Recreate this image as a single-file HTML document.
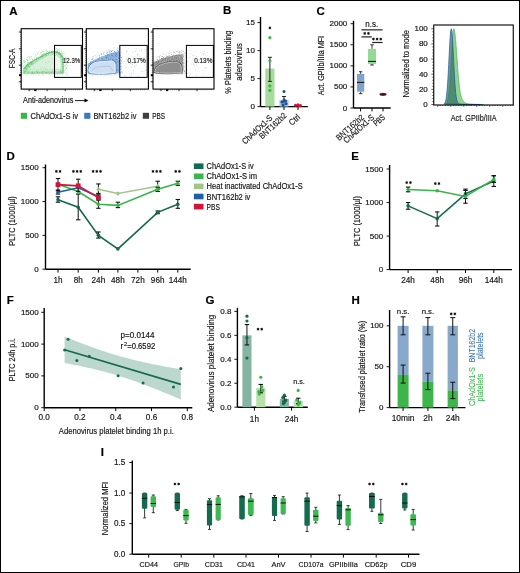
<!DOCTYPE html>
<html><head><meta charset="utf-8"><style>
html,body{margin:0;padding:0;background:#fff;}
body{width:520px;height:573px;overflow:hidden;position:relative;}
svg{position:absolute;left:0;top:0;display:block;font-family:"Liberation Sans", sans-serif;will-change:transform;}
.frame{position:absolute;left:0;top:0;width:518px;height:571px;border:1px solid #000;pointer-events:none;}
</style></head><body>
<svg width="520" height="573" viewBox="0 0 520 573">
<defs><filter id="blur1" x="-20%" y="-20%" width="140%" height="140%"><feGaussianBlur stdDeviation="0.8"/></filter><filter id="blur05" x="-20%" y="-20%" width="140%" height="140%"><feGaussianBlur stdDeviation="0.45"/></filter><filter id="blur2" x="-30%" y="-30%" width="160%" height="160%"><feGaussianBlur stdDeviation="1.6"/></filter><filter id="speck" x="-10%" y="-10%" width="120%" height="120%"><feGaussianBlur in="SourceGraphic" stdDeviation="1.3" result="b"/><feTurbulence type="fractalNoise" baseFrequency="2.2" numOctaves="1" seed="3" result="n"/><feColorMatrix in="n" type="matrix" values="0 0 0 0 0  0 0 0 0 0  0 0 0 0 0  0 0 0 2.2 -1.0" result="nm"/><feComposite in="b" in2="nm" operator="in"/></filter></defs>
<rect x="0" y="0" width="520" height="573" fill="#fff"/>
<text x="9.20" y="15.20" font-size="11.5" text-anchor="start" fill="#000" stroke="#000" stroke-width="0.16" font-weight="bold" >A</text>
<text x="14.60" y="58.40" font-size="9.2" text-anchor="middle" fill="#141213" stroke="#141213" stroke-width="0.16" textLength="19.50" lengthAdjust="spacingAndGlyphs" transform="rotate(-90 14.60 58.40)" >FSC-A</text>
<path d="M22.4,74.8 L22.4,59.5 C30,56 42,50 51.7,48.6 L60.4,48.6 C64,51.5 67.5,56 67.5,60 L67.5,75 Z" fill="#3ab54a" opacity="0.9" filter="url(#speck)"/>
<path d="M22.8,74 C22.6,70 23.5,66 30,62 C38,57 46,52.5 52,51.3 C57,50.5 61,52 62.8,56 C64,60 64,68 63.5,74 Z" fill="#3ab54a" opacity="0.42" filter="url(#blur05)"/>
<path d="M28,70 C32,64.5 42,57.5 51,54.3 C55,53.2 59,54.5 60.6,58 C61.8,61 61.8,67 61.5,70 Z" fill="#ffffff" opacity="0.6" filter="url(#blur1)"/>
<path d="M55.5,56 C58,55.5 60,57.5 60.5,60 L60.8,69 L56,69 Z" fill="#ffffff" opacity="0.55" filter="url(#blur1)"/>
<path d="M23.2,69 C28,64 40,56 52,51.8 C57,51 60.5,53 62.3,57.5 C63.2,62 63.2,68 63,72.5" fill="none" stroke="#2fae48" stroke-width="1.2" opacity="0.45" filter="url(#blur05)"/>
<path d="M28,70 C33,65 42,59 51,56.5 C55,55.5 58,57 59,60 L59.5,70" fill="none" stroke="#ffffff" stroke-width="0.6" opacity="0.6"/>
<line x1="24.00" y1="72.60" x2="62.00" y2="72.60" stroke="#2fae48" stroke-width="2.4" opacity="0.55" filter="url(#blur05)"/>
<line x1="26.00" y1="70.80" x2="60.00" y2="70.80" stroke="#ffffff" stroke-width="0.7" opacity="0.7"/>
<rect x="21.20" y="28.70" width="61.30" height="60.40" fill="none" stroke="#000" stroke-width="1.1" />
<rect x="54.50" y="45.40" width="26.80" height="32.00" fill="none" stroke="#000" stroke-width="1.0" />
<text x="63.00" y="63.30" font-size="7.9" text-anchor="start" fill="#222" stroke="#222" stroke-width="0.2" textLength="17.20" lengthAdjust="spacingAndGlyphs" >12.3%</text>
<line x1="20.00" y1="30.50" x2="21.20" y2="30.50" stroke="#333" stroke-width="0.45" />
<line x1="20.00" y1="32.50" x2="21.20" y2="32.50" stroke="#333" stroke-width="0.45" />
<line x1="20.00" y1="34.50" x2="21.20" y2="34.50" stroke="#333" stroke-width="0.45" />
<line x1="20.00" y1="36.50" x2="21.20" y2="36.50" stroke="#333" stroke-width="0.45" />
<line x1="20.00" y1="38.50" x2="21.20" y2="38.50" stroke="#333" stroke-width="0.45" />
<line x1="20.00" y1="40.50" x2="21.20" y2="40.50" stroke="#333" stroke-width="0.45" />
<line x1="20.00" y1="42.50" x2="21.20" y2="42.50" stroke="#333" stroke-width="0.45" />
<line x1="20.00" y1="44.50" x2="21.20" y2="44.50" stroke="#333" stroke-width="0.45" />
<line x1="20.00" y1="46.50" x2="21.20" y2="46.50" stroke="#333" stroke-width="0.45" />
<line x1="20.00" y1="48.50" x2="21.20" y2="48.50" stroke="#333" stroke-width="0.45" />
<line x1="20.00" y1="50.50" x2="21.20" y2="50.50" stroke="#333" stroke-width="0.45" />
<line x1="20.00" y1="52.50" x2="21.20" y2="52.50" stroke="#333" stroke-width="0.45" />
<line x1="20.00" y1="54.50" x2="21.20" y2="54.50" stroke="#333" stroke-width="0.45" />
<line x1="20.00" y1="56.50" x2="21.20" y2="56.50" stroke="#333" stroke-width="0.45" />
<line x1="20.00" y1="58.50" x2="21.20" y2="58.50" stroke="#333" stroke-width="0.45" />
<line x1="20.00" y1="60.50" x2="21.20" y2="60.50" stroke="#333" stroke-width="0.45" />
<line x1="20.00" y1="62.50" x2="21.20" y2="62.50" stroke="#333" stroke-width="0.45" />
<line x1="20.00" y1="64.50" x2="21.20" y2="64.50" stroke="#333" stroke-width="0.45" />
<line x1="20.00" y1="66.50" x2="21.20" y2="66.50" stroke="#333" stroke-width="0.45" />
<line x1="20.00" y1="68.50" x2="21.20" y2="68.50" stroke="#333" stroke-width="0.45" />
<line x1="20.00" y1="70.50" x2="21.20" y2="70.50" stroke="#333" stroke-width="0.45" />
<line x1="20.00" y1="72.50" x2="21.20" y2="72.50" stroke="#333" stroke-width="0.45" />
<line x1="20.00" y1="74.50" x2="21.20" y2="74.50" stroke="#333" stroke-width="0.45" />
<line x1="20.00" y1="76.50" x2="21.20" y2="76.50" stroke="#333" stroke-width="0.45" />
<line x1="20.00" y1="78.50" x2="21.20" y2="78.50" stroke="#333" stroke-width="0.45" />
<line x1="20.00" y1="80.50" x2="21.20" y2="80.50" stroke="#333" stroke-width="0.45" />
<line x1="20.00" y1="82.50" x2="21.20" y2="82.50" stroke="#333" stroke-width="0.45" />
<line x1="20.00" y1="84.50" x2="21.20" y2="84.50" stroke="#333" stroke-width="0.45" />
<line x1="20.00" y1="86.50" x2="21.20" y2="86.50" stroke="#333" stroke-width="0.45" />
<line x1="18.80" y1="32.00" x2="21.20" y2="32.00" stroke="#000" stroke-width="0.8" />
<line x1="18.80" y1="48.80" x2="21.20" y2="48.80" stroke="#000" stroke-width="0.8" />
<line x1="18.80" y1="65.20" x2="21.20" y2="65.20" stroke="#000" stroke-width="0.8" />
<line x1="18.80" y1="81.80" x2="21.20" y2="81.80" stroke="#000" stroke-width="0.8" />
<rect x="19.00" y="74.20" width="2.20" height="2.00" fill="#000" />
<line x1="24.20" y1="89.10" x2="24.20" y2="90.30" stroke="#333" stroke-width="0.45" />
<line x1="26.25" y1="89.10" x2="26.25" y2="90.30" stroke="#333" stroke-width="0.45" />
<line x1="28.30" y1="89.10" x2="28.30" y2="90.30" stroke="#333" stroke-width="0.45" />
<line x1="30.35" y1="89.10" x2="30.35" y2="90.30" stroke="#333" stroke-width="0.45" />
<line x1="32.40" y1="89.10" x2="32.40" y2="90.30" stroke="#333" stroke-width="0.45" />
<line x1="34.45" y1="89.10" x2="34.45" y2="90.30" stroke="#333" stroke-width="0.45" />
<line x1="36.50" y1="89.10" x2="36.50" y2="90.30" stroke="#333" stroke-width="0.45" />
<line x1="38.55" y1="89.10" x2="38.55" y2="90.30" stroke="#333" stroke-width="0.45" />
<line x1="40.60" y1="89.10" x2="40.60" y2="90.30" stroke="#333" stroke-width="0.45" />
<line x1="42.65" y1="89.10" x2="42.65" y2="90.30" stroke="#333" stroke-width="0.45" />
<line x1="44.70" y1="89.10" x2="44.70" y2="90.30" stroke="#333" stroke-width="0.45" />
<line x1="46.75" y1="89.10" x2="46.75" y2="90.30" stroke="#333" stroke-width="0.45" />
<line x1="48.80" y1="89.10" x2="48.80" y2="90.30" stroke="#333" stroke-width="0.45" />
<line x1="50.85" y1="89.10" x2="50.85" y2="90.30" stroke="#333" stroke-width="0.45" />
<line x1="52.90" y1="89.10" x2="52.90" y2="90.30" stroke="#333" stroke-width="0.45" />
<line x1="54.95" y1="89.10" x2="54.95" y2="90.30" stroke="#333" stroke-width="0.45" />
<line x1="57.00" y1="89.10" x2="57.00" y2="90.30" stroke="#333" stroke-width="0.45" />
<line x1="59.05" y1="89.10" x2="59.05" y2="90.30" stroke="#333" stroke-width="0.45" />
<line x1="61.10" y1="89.10" x2="61.10" y2="90.30" stroke="#333" stroke-width="0.45" />
<line x1="63.15" y1="89.10" x2="63.15" y2="90.30" stroke="#333" stroke-width="0.45" />
<line x1="65.20" y1="89.10" x2="65.20" y2="90.30" stroke="#333" stroke-width="0.45" />
<line x1="67.25" y1="89.10" x2="67.25" y2="90.30" stroke="#333" stroke-width="0.45" />
<line x1="69.30" y1="89.10" x2="69.30" y2="90.30" stroke="#333" stroke-width="0.45" />
<line x1="71.35" y1="89.10" x2="71.35" y2="90.30" stroke="#333" stroke-width="0.45" />
<line x1="73.40" y1="89.10" x2="73.40" y2="90.30" stroke="#333" stroke-width="0.45" />
<line x1="75.45" y1="89.10" x2="75.45" y2="90.30" stroke="#333" stroke-width="0.45" />
<line x1="77.50" y1="89.10" x2="77.50" y2="90.30" stroke="#333" stroke-width="0.45" />
<line x1="79.55" y1="89.10" x2="79.55" y2="90.30" stroke="#333" stroke-width="0.45" />
<line x1="29.20" y1="89.10" x2="29.20" y2="91.20" stroke="#000" stroke-width="0.8" />
<line x1="47.20" y1="89.10" x2="47.20" y2="91.20" stroke="#000" stroke-width="0.8" />
<line x1="65.20" y1="89.10" x2="65.20" y2="91.20" stroke="#000" stroke-width="0.8" />
<rect x="34.20" y="89.30" width="2.20" height="1.80" fill="#000" />
<path d="M87.5,74.5 L87.5,60.5 C95,55 108,49 121,47 L122,75 Z" fill="#2e6fc0" opacity="0.95" filter="url(#speck)"/>
<path d="M87.6,73.8 L87.6,64 C95,59 108,53 119.2,51 L119.4,72.8 C110,74 95,74 87.6,73.8 Z" fill="#2f6fc0" opacity="0.5" filter="url(#blur05)"/>
<path d="M88.8,71 C88.8,66 92,62.8 98,62 L111.9,60.8 C114.2,61 115.2,62.8 115.2,66 L115.2,72.6 C105,73.6 95,73.6 90,72.8 Z" fill="none" stroke="#2f6fc0" stroke-width="2.2" opacity="0.85" filter="url(#blur05)"/>
<path d="M88.8,71 C88.8,66 92,62.8 98,62 L111.9,60.8 C114.2,61 115.2,62.8 115.2,66 L115.2,72.6 C105,73.6 95,73.6 90,72.8 Z" fill="#d3e1f3" stroke="#ffffff" stroke-width="1.0" opacity="0.95"/>
<path d="M92,70.5 C95,67 100,66 110,66.5 L113,71" fill="none" stroke="#9dbbe3" stroke-width="1.0" opacity="0.6" filter="url(#blur05)"/>
<circle cx="127.74" cy="51.53" r="0.25" fill="#5a8fd0"/>
<circle cx="120.96" cy="63.08" r="0.35" fill="#5a8fd0"/>
<circle cx="134.74" cy="74.29" r="0.25" fill="#5a8fd0"/>
<circle cx="120.01" cy="60.01" r="0.25" fill="#5a8fd0"/>
<circle cx="125.50" cy="63.53" r="0.25" fill="#5a8fd0"/>
<circle cx="141.33" cy="50.71" r="0.25" fill="#5a8fd0"/>
<circle cx="136.03" cy="64.49" r="0.25" fill="#5a8fd0"/>
<circle cx="134.58" cy="58.90" r="0.25" fill="#5a8fd0"/>
<circle cx="120.26" cy="72.75" r="0.35" fill="#5a8fd0"/>
<circle cx="130.32" cy="63.22" r="0.35" fill="#5a8fd0"/>
<circle cx="134.13" cy="67.46" r="0.25" fill="#5a8fd0"/>
<circle cx="134.70" cy="66.17" r="0.35" fill="#5a8fd0"/>
<circle cx="121.63" cy="68.36" r="0.25" fill="#5a8fd0"/>
<circle cx="135.71" cy="61.89" r="0.35" fill="#5a8fd0"/>
<circle cx="139.99" cy="60.97" r="0.35" fill="#5a8fd0"/>
<circle cx="128.76" cy="54.45" r="0.25" fill="#5a8fd0"/>
<circle cx="137.87" cy="54.32" r="0.35" fill="#5a8fd0"/>
<circle cx="133.18" cy="73.25" r="0.35" fill="#5a8fd0"/>
<circle cx="126.77" cy="76.41" r="0.25" fill="#5a8fd0"/>
<circle cx="132.82" cy="51.95" r="0.35" fill="#5a8fd0"/>
<circle cx="123.10" cy="61.67" r="0.25" fill="#5a8fd0"/>
<circle cx="144.97" cy="49.33" r="0.35" fill="#5a8fd0"/>
<circle cx="128.18" cy="57.51" r="0.35" fill="#5a8fd0"/>
<circle cx="134.66" cy="60.69" r="0.25" fill="#5a8fd0"/>
<circle cx="144.51" cy="61.22" r="0.25" fill="#5a8fd0"/>
<circle cx="120.64" cy="68.04" r="0.35" fill="#5a8fd0"/>
<circle cx="126.68" cy="58.57" r="0.35" fill="#5a8fd0"/>
<circle cx="119.61" cy="60.85" r="0.25" fill="#5a8fd0"/>
<circle cx="135.49" cy="61.81" r="0.25" fill="#5a8fd0"/>
<circle cx="139.74" cy="50.88" r="0.25" fill="#5a8fd0"/>
<circle cx="129.74" cy="74.50" r="0.35" fill="#5a8fd0"/>
<circle cx="121.18" cy="60.48" r="0.35" fill="#5a8fd0"/>
<circle cx="142.85" cy="71.58" r="0.35" fill="#5a8fd0"/>
<circle cx="138.07" cy="76.59" r="0.35" fill="#5a8fd0"/>
<circle cx="144.86" cy="51.53" r="0.25" fill="#5a8fd0"/>
<circle cx="123.09" cy="66.76" r="0.25" fill="#5a8fd0"/>
<circle cx="132.09" cy="64.67" r="0.35" fill="#5a8fd0"/>
<circle cx="126.61" cy="51.37" r="0.35" fill="#5a8fd0"/>
<circle cx="135.46" cy="56.56" r="0.25" fill="#5a8fd0"/>
<circle cx="137.64" cy="62.46" r="0.25" fill="#5a8fd0"/>
<circle cx="131.33" cy="73.13" r="0.35" fill="#5a8fd0"/>
<circle cx="129.75" cy="58.82" r="0.35" fill="#5a8fd0"/>
<circle cx="136.13" cy="48.87" r="0.25" fill="#5a8fd0"/>
<circle cx="145.59" cy="60.22" r="0.25" fill="#5a8fd0"/>
<circle cx="128.18" cy="48.58" r="0.25" fill="#5a8fd0"/>
<circle cx="134.30" cy="63.10" r="0.35" fill="#5a8fd0"/>
<circle cx="135.57" cy="49.11" r="0.25" fill="#5a8fd0"/>
<circle cx="135.58" cy="51.46" r="0.35" fill="#5a8fd0"/>
<circle cx="144.80" cy="65.07" r="0.35" fill="#5a8fd0"/>
<circle cx="122.32" cy="72.47" r="0.35" fill="#5a8fd0"/>
<circle cx="131.97" cy="56.36" r="0.25" fill="#5a8fd0"/>
<circle cx="121.76" cy="57.28" r="0.35" fill="#5a8fd0"/>
<circle cx="131.92" cy="67.76" r="0.25" fill="#5a8fd0"/>
<circle cx="124.54" cy="75.56" r="0.35" fill="#5a8fd0"/>
<circle cx="122.96" cy="63.30" r="0.25" fill="#5a8fd0"/>
<circle cx="139.47" cy="55.94" r="0.25" fill="#5a8fd0"/>
<circle cx="137.80" cy="54.83" r="0.35" fill="#5a8fd0"/>
<circle cx="143.52" cy="57.67" r="0.25" fill="#5a8fd0"/>
<circle cx="133.38" cy="70.37" r="0.35" fill="#5a8fd0"/>
<circle cx="136.18" cy="65.40" r="0.25" fill="#5a8fd0"/>
<circle cx="140.76" cy="71.55" r="0.25" fill="#5a8fd0"/>
<circle cx="124.40" cy="61.78" r="0.25" fill="#5a8fd0"/>
<circle cx="145.72" cy="70.70" r="0.35" fill="#5a8fd0"/>
<circle cx="126.00" cy="67.78" r="0.35" fill="#5a8fd0"/>
<circle cx="131.08" cy="75.11" r="0.35" fill="#5a8fd0"/>
<circle cx="144.79" cy="57.94" r="0.25" fill="#5a8fd0"/>
<circle cx="121.76" cy="61.10" r="0.35" fill="#5a8fd0"/>
<circle cx="124.52" cy="65.72" r="0.25" fill="#5a8fd0"/>
<circle cx="131.95" cy="66.59" r="0.25" fill="#5a8fd0"/>
<circle cx="141.54" cy="50.60" r="0.35" fill="#5a8fd0"/>
<rect x="86.30" y="28.70" width="62.10" height="60.40" fill="none" stroke="#000" stroke-width="1.1" />
<rect x="119.80" y="45.40" width="27.40" height="32.00" fill="none" stroke="#000" stroke-width="1.0" />
<text x="127.60" y="63.30" font-size="7.9" text-anchor="start" fill="#222" stroke="#222" stroke-width="0.2" textLength="18.20" lengthAdjust="spacingAndGlyphs" >0.17%</text>
<line x1="85.10" y1="30.50" x2="86.30" y2="30.50" stroke="#333" stroke-width="0.45" />
<line x1="85.10" y1="32.50" x2="86.30" y2="32.50" stroke="#333" stroke-width="0.45" />
<line x1="85.10" y1="34.50" x2="86.30" y2="34.50" stroke="#333" stroke-width="0.45" />
<line x1="85.10" y1="36.50" x2="86.30" y2="36.50" stroke="#333" stroke-width="0.45" />
<line x1="85.10" y1="38.50" x2="86.30" y2="38.50" stroke="#333" stroke-width="0.45" />
<line x1="85.10" y1="40.50" x2="86.30" y2="40.50" stroke="#333" stroke-width="0.45" />
<line x1="85.10" y1="42.50" x2="86.30" y2="42.50" stroke="#333" stroke-width="0.45" />
<line x1="85.10" y1="44.50" x2="86.30" y2="44.50" stroke="#333" stroke-width="0.45" />
<line x1="85.10" y1="46.50" x2="86.30" y2="46.50" stroke="#333" stroke-width="0.45" />
<line x1="85.10" y1="48.50" x2="86.30" y2="48.50" stroke="#333" stroke-width="0.45" />
<line x1="85.10" y1="50.50" x2="86.30" y2="50.50" stroke="#333" stroke-width="0.45" />
<line x1="85.10" y1="52.50" x2="86.30" y2="52.50" stroke="#333" stroke-width="0.45" />
<line x1="85.10" y1="54.50" x2="86.30" y2="54.50" stroke="#333" stroke-width="0.45" />
<line x1="85.10" y1="56.50" x2="86.30" y2="56.50" stroke="#333" stroke-width="0.45" />
<line x1="85.10" y1="58.50" x2="86.30" y2="58.50" stroke="#333" stroke-width="0.45" />
<line x1="85.10" y1="60.50" x2="86.30" y2="60.50" stroke="#333" stroke-width="0.45" />
<line x1="85.10" y1="62.50" x2="86.30" y2="62.50" stroke="#333" stroke-width="0.45" />
<line x1="85.10" y1="64.50" x2="86.30" y2="64.50" stroke="#333" stroke-width="0.45" />
<line x1="85.10" y1="66.50" x2="86.30" y2="66.50" stroke="#333" stroke-width="0.45" />
<line x1="85.10" y1="68.50" x2="86.30" y2="68.50" stroke="#333" stroke-width="0.45" />
<line x1="85.10" y1="70.50" x2="86.30" y2="70.50" stroke="#333" stroke-width="0.45" />
<line x1="85.10" y1="72.50" x2="86.30" y2="72.50" stroke="#333" stroke-width="0.45" />
<line x1="85.10" y1="74.50" x2="86.30" y2="74.50" stroke="#333" stroke-width="0.45" />
<line x1="85.10" y1="76.50" x2="86.30" y2="76.50" stroke="#333" stroke-width="0.45" />
<line x1="85.10" y1="78.50" x2="86.30" y2="78.50" stroke="#333" stroke-width="0.45" />
<line x1="85.10" y1="80.50" x2="86.30" y2="80.50" stroke="#333" stroke-width="0.45" />
<line x1="85.10" y1="82.50" x2="86.30" y2="82.50" stroke="#333" stroke-width="0.45" />
<line x1="85.10" y1="84.50" x2="86.30" y2="84.50" stroke="#333" stroke-width="0.45" />
<line x1="85.10" y1="86.50" x2="86.30" y2="86.50" stroke="#333" stroke-width="0.45" />
<line x1="83.90" y1="32.00" x2="86.30" y2="32.00" stroke="#000" stroke-width="0.8" />
<line x1="83.90" y1="48.80" x2="86.30" y2="48.80" stroke="#000" stroke-width="0.8" />
<line x1="83.90" y1="65.20" x2="86.30" y2="65.20" stroke="#000" stroke-width="0.8" />
<line x1="83.90" y1="81.80" x2="86.30" y2="81.80" stroke="#000" stroke-width="0.8" />
<rect x="84.10" y="74.20" width="2.20" height="2.00" fill="#000" />
<line x1="89.30" y1="89.10" x2="89.30" y2="90.30" stroke="#333" stroke-width="0.45" />
<line x1="91.35" y1="89.10" x2="91.35" y2="90.30" stroke="#333" stroke-width="0.45" />
<line x1="93.40" y1="89.10" x2="93.40" y2="90.30" stroke="#333" stroke-width="0.45" />
<line x1="95.45" y1="89.10" x2="95.45" y2="90.30" stroke="#333" stroke-width="0.45" />
<line x1="97.50" y1="89.10" x2="97.50" y2="90.30" stroke="#333" stroke-width="0.45" />
<line x1="99.55" y1="89.10" x2="99.55" y2="90.30" stroke="#333" stroke-width="0.45" />
<line x1="101.60" y1="89.10" x2="101.60" y2="90.30" stroke="#333" stroke-width="0.45" />
<line x1="103.65" y1="89.10" x2="103.65" y2="90.30" stroke="#333" stroke-width="0.45" />
<line x1="105.70" y1="89.10" x2="105.70" y2="90.30" stroke="#333" stroke-width="0.45" />
<line x1="107.75" y1="89.10" x2="107.75" y2="90.30" stroke="#333" stroke-width="0.45" />
<line x1="109.80" y1="89.10" x2="109.80" y2="90.30" stroke="#333" stroke-width="0.45" />
<line x1="111.85" y1="89.10" x2="111.85" y2="90.30" stroke="#333" stroke-width="0.45" />
<line x1="113.90" y1="89.10" x2="113.90" y2="90.30" stroke="#333" stroke-width="0.45" />
<line x1="115.95" y1="89.10" x2="115.95" y2="90.30" stroke="#333" stroke-width="0.45" />
<line x1="118.00" y1="89.10" x2="118.00" y2="90.30" stroke="#333" stroke-width="0.45" />
<line x1="120.05" y1="89.10" x2="120.05" y2="90.30" stroke="#333" stroke-width="0.45" />
<line x1="122.10" y1="89.10" x2="122.10" y2="90.30" stroke="#333" stroke-width="0.45" />
<line x1="124.15" y1="89.10" x2="124.15" y2="90.30" stroke="#333" stroke-width="0.45" />
<line x1="126.20" y1="89.10" x2="126.20" y2="90.30" stroke="#333" stroke-width="0.45" />
<line x1="128.25" y1="89.10" x2="128.25" y2="90.30" stroke="#333" stroke-width="0.45" />
<line x1="130.30" y1="89.10" x2="130.30" y2="90.30" stroke="#333" stroke-width="0.45" />
<line x1="132.35" y1="89.10" x2="132.35" y2="90.30" stroke="#333" stroke-width="0.45" />
<line x1="134.40" y1="89.10" x2="134.40" y2="90.30" stroke="#333" stroke-width="0.45" />
<line x1="136.45" y1="89.10" x2="136.45" y2="90.30" stroke="#333" stroke-width="0.45" />
<line x1="138.50" y1="89.10" x2="138.50" y2="90.30" stroke="#333" stroke-width="0.45" />
<line x1="140.55" y1="89.10" x2="140.55" y2="90.30" stroke="#333" stroke-width="0.45" />
<line x1="142.60" y1="89.10" x2="142.60" y2="90.30" stroke="#333" stroke-width="0.45" />
<line x1="144.65" y1="89.10" x2="144.65" y2="90.30" stroke="#333" stroke-width="0.45" />
<line x1="94.30" y1="89.10" x2="94.30" y2="91.20" stroke="#000" stroke-width="0.8" />
<line x1="112.30" y1="89.10" x2="112.30" y2="91.20" stroke="#000" stroke-width="0.8" />
<line x1="130.30" y1="89.10" x2="130.30" y2="91.20" stroke="#000" stroke-width="0.8" />
<rect x="99.30" y="89.30" width="2.20" height="1.80" fill="#000" />
<path d="M153.2,74 L153.2,59.5 C160,55 172,51 184.5,50.5 C186,55 186,65 185.5,74 Z" fill="#555" opacity="0.9" filter="url(#speck)"/>
<path d="M153.2,73 L153.2,62.5 C160,58.5 172,55 182.5,54 C183.3,56 183.5,65 183.3,72.8 Z" fill="#4a4a4a" opacity="0.5" filter="url(#blur05)"/>
<path d="M154.8,72 C155,67 160,63.5 172,62.2 C178,61.8 181.25,63.5 181.25,67 L181.25,72.6 C170,73.4 160,73.4 154.8,72 Z" fill="none" stroke="#333" stroke-width="2.0" opacity="0.8" filter="url(#blur05)"/>
<path d="M154.8,72 C155,67 160,63.5 172,62.2 C178,61.8 181.25,63.5 181.25,67 L181.25,72.6 C170,73.4 160,73.4 154.8,72 Z" fill="#8e8e8e" stroke="#e0e0e0" stroke-width="0.8" opacity="0.95"/>
<circle cx="202.78" cy="70.25" r="0.35" fill="#888"/>
<circle cx="205.34" cy="61.72" r="0.35" fill="#888"/>
<circle cx="186.08" cy="75.55" r="0.35" fill="#888"/>
<circle cx="195.12" cy="70.07" r="0.25" fill="#888"/>
<circle cx="201.40" cy="54.59" r="0.25" fill="#888"/>
<circle cx="184.66" cy="65.95" r="0.35" fill="#888"/>
<circle cx="203.36" cy="53.95" r="0.35" fill="#888"/>
<circle cx="199.77" cy="59.46" r="0.25" fill="#888"/>
<circle cx="184.51" cy="71.58" r="0.25" fill="#888"/>
<circle cx="196.64" cy="75.21" r="0.35" fill="#888"/>
<circle cx="207.68" cy="55.26" r="0.25" fill="#888"/>
<circle cx="184.67" cy="55.75" r="0.25" fill="#888"/>
<circle cx="202.33" cy="58.80" r="0.35" fill="#888"/>
<circle cx="204.02" cy="51.64" r="0.35" fill="#888"/>
<circle cx="205.54" cy="67.89" r="0.35" fill="#888"/>
<circle cx="203.85" cy="73.71" r="0.25" fill="#888"/>
<circle cx="196.76" cy="64.13" r="0.25" fill="#888"/>
<circle cx="204.95" cy="70.97" r="0.25" fill="#888"/>
<circle cx="202.62" cy="54.04" r="0.25" fill="#888"/>
<circle cx="195.36" cy="69.58" r="0.25" fill="#888"/>
<circle cx="191.82" cy="64.00" r="0.35" fill="#888"/>
<circle cx="202.82" cy="52.86" r="0.25" fill="#888"/>
<circle cx="189.96" cy="57.48" r="0.25" fill="#888"/>
<circle cx="196.19" cy="65.17" r="0.25" fill="#888"/>
<circle cx="194.64" cy="66.54" r="0.25" fill="#888"/>
<circle cx="200.63" cy="62.21" r="0.35" fill="#888"/>
<circle cx="196.19" cy="56.69" r="0.35" fill="#888"/>
<circle cx="206.15" cy="74.10" r="0.25" fill="#888"/>
<circle cx="204.16" cy="53.70" r="0.25" fill="#888"/>
<circle cx="193.42" cy="58.53" r="0.25" fill="#888"/>
<circle cx="194.28" cy="55.74" r="0.35" fill="#888"/>
<circle cx="202.81" cy="74.22" r="0.25" fill="#888"/>
<circle cx="206.55" cy="67.37" r="0.35" fill="#888"/>
<circle cx="187.43" cy="73.84" r="0.35" fill="#888"/>
<circle cx="189.27" cy="75.72" r="0.35" fill="#888"/>
<circle cx="205.24" cy="54.40" r="0.25" fill="#888"/>
<circle cx="187.88" cy="61.65" r="0.35" fill="#888"/>
<circle cx="192.14" cy="55.29" r="0.35" fill="#888"/>
<circle cx="186.21" cy="59.88" r="0.35" fill="#888"/>
<circle cx="197.30" cy="61.89" r="0.25" fill="#888"/>
<circle cx="193.22" cy="63.97" r="0.35" fill="#888"/>
<circle cx="196.29" cy="51.74" r="0.25" fill="#888"/>
<circle cx="207.32" cy="52.83" r="0.35" fill="#888"/>
<circle cx="190.53" cy="74.46" r="0.25" fill="#888"/>
<circle cx="190.49" cy="53.50" r="0.35" fill="#888"/>
<circle cx="204.39" cy="68.25" r="0.35" fill="#888"/>
<circle cx="193.74" cy="64.49" r="0.35" fill="#888"/>
<circle cx="200.81" cy="52.42" r="0.25" fill="#888"/>
<circle cx="203.19" cy="54.95" r="0.25" fill="#888"/>
<circle cx="190.45" cy="50.45" r="0.25" fill="#888"/>
<rect x="153.00" y="28.70" width="61.00" height="60.40" fill="none" stroke="#000" stroke-width="1.1" />
<rect x="186.40" y="45.40" width="27.00" height="32.00" fill="none" stroke="#000" stroke-width="1.0" />
<text x="194.20" y="63.30" font-size="7.9" text-anchor="start" fill="#222" stroke="#222" stroke-width="0.2" textLength="18.20" lengthAdjust="spacingAndGlyphs" >0.13%</text>
<line x1="151.80" y1="30.50" x2="153.00" y2="30.50" stroke="#333" stroke-width="0.45" />
<line x1="151.80" y1="32.50" x2="153.00" y2="32.50" stroke="#333" stroke-width="0.45" />
<line x1="151.80" y1="34.50" x2="153.00" y2="34.50" stroke="#333" stroke-width="0.45" />
<line x1="151.80" y1="36.50" x2="153.00" y2="36.50" stroke="#333" stroke-width="0.45" />
<line x1="151.80" y1="38.50" x2="153.00" y2="38.50" stroke="#333" stroke-width="0.45" />
<line x1="151.80" y1="40.50" x2="153.00" y2="40.50" stroke="#333" stroke-width="0.45" />
<line x1="151.80" y1="42.50" x2="153.00" y2="42.50" stroke="#333" stroke-width="0.45" />
<line x1="151.80" y1="44.50" x2="153.00" y2="44.50" stroke="#333" stroke-width="0.45" />
<line x1="151.80" y1="46.50" x2="153.00" y2="46.50" stroke="#333" stroke-width="0.45" />
<line x1="151.80" y1="48.50" x2="153.00" y2="48.50" stroke="#333" stroke-width="0.45" />
<line x1="151.80" y1="50.50" x2="153.00" y2="50.50" stroke="#333" stroke-width="0.45" />
<line x1="151.80" y1="52.50" x2="153.00" y2="52.50" stroke="#333" stroke-width="0.45" />
<line x1="151.80" y1="54.50" x2="153.00" y2="54.50" stroke="#333" stroke-width="0.45" />
<line x1="151.80" y1="56.50" x2="153.00" y2="56.50" stroke="#333" stroke-width="0.45" />
<line x1="151.80" y1="58.50" x2="153.00" y2="58.50" stroke="#333" stroke-width="0.45" />
<line x1="151.80" y1="60.50" x2="153.00" y2="60.50" stroke="#333" stroke-width="0.45" />
<line x1="151.80" y1="62.50" x2="153.00" y2="62.50" stroke="#333" stroke-width="0.45" />
<line x1="151.80" y1="64.50" x2="153.00" y2="64.50" stroke="#333" stroke-width="0.45" />
<line x1="151.80" y1="66.50" x2="153.00" y2="66.50" stroke="#333" stroke-width="0.45" />
<line x1="151.80" y1="68.50" x2="153.00" y2="68.50" stroke="#333" stroke-width="0.45" />
<line x1="151.80" y1="70.50" x2="153.00" y2="70.50" stroke="#333" stroke-width="0.45" />
<line x1="151.80" y1="72.50" x2="153.00" y2="72.50" stroke="#333" stroke-width="0.45" />
<line x1="151.80" y1="74.50" x2="153.00" y2="74.50" stroke="#333" stroke-width="0.45" />
<line x1="151.80" y1="76.50" x2="153.00" y2="76.50" stroke="#333" stroke-width="0.45" />
<line x1="151.80" y1="78.50" x2="153.00" y2="78.50" stroke="#333" stroke-width="0.45" />
<line x1="151.80" y1="80.50" x2="153.00" y2="80.50" stroke="#333" stroke-width="0.45" />
<line x1="151.80" y1="82.50" x2="153.00" y2="82.50" stroke="#333" stroke-width="0.45" />
<line x1="151.80" y1="84.50" x2="153.00" y2="84.50" stroke="#333" stroke-width="0.45" />
<line x1="151.80" y1="86.50" x2="153.00" y2="86.50" stroke="#333" stroke-width="0.45" />
<line x1="150.60" y1="32.00" x2="153.00" y2="32.00" stroke="#000" stroke-width="0.8" />
<line x1="150.60" y1="48.80" x2="153.00" y2="48.80" stroke="#000" stroke-width="0.8" />
<line x1="150.60" y1="65.20" x2="153.00" y2="65.20" stroke="#000" stroke-width="0.8" />
<line x1="150.60" y1="81.80" x2="153.00" y2="81.80" stroke="#000" stroke-width="0.8" />
<rect x="150.80" y="74.20" width="2.20" height="2.00" fill="#000" />
<line x1="156.00" y1="89.10" x2="156.00" y2="90.30" stroke="#333" stroke-width="0.45" />
<line x1="158.05" y1="89.10" x2="158.05" y2="90.30" stroke="#333" stroke-width="0.45" />
<line x1="160.10" y1="89.10" x2="160.10" y2="90.30" stroke="#333" stroke-width="0.45" />
<line x1="162.15" y1="89.10" x2="162.15" y2="90.30" stroke="#333" stroke-width="0.45" />
<line x1="164.20" y1="89.10" x2="164.20" y2="90.30" stroke="#333" stroke-width="0.45" />
<line x1="166.25" y1="89.10" x2="166.25" y2="90.30" stroke="#333" stroke-width="0.45" />
<line x1="168.30" y1="89.10" x2="168.30" y2="90.30" stroke="#333" stroke-width="0.45" />
<line x1="170.35" y1="89.10" x2="170.35" y2="90.30" stroke="#333" stroke-width="0.45" />
<line x1="172.40" y1="89.10" x2="172.40" y2="90.30" stroke="#333" stroke-width="0.45" />
<line x1="174.45" y1="89.10" x2="174.45" y2="90.30" stroke="#333" stroke-width="0.45" />
<line x1="176.50" y1="89.10" x2="176.50" y2="90.30" stroke="#333" stroke-width="0.45" />
<line x1="178.55" y1="89.10" x2="178.55" y2="90.30" stroke="#333" stroke-width="0.45" />
<line x1="180.60" y1="89.10" x2="180.60" y2="90.30" stroke="#333" stroke-width="0.45" />
<line x1="182.65" y1="89.10" x2="182.65" y2="90.30" stroke="#333" stroke-width="0.45" />
<line x1="184.70" y1="89.10" x2="184.70" y2="90.30" stroke="#333" stroke-width="0.45" />
<line x1="186.75" y1="89.10" x2="186.75" y2="90.30" stroke="#333" stroke-width="0.45" />
<line x1="188.80" y1="89.10" x2="188.80" y2="90.30" stroke="#333" stroke-width="0.45" />
<line x1="190.85" y1="89.10" x2="190.85" y2="90.30" stroke="#333" stroke-width="0.45" />
<line x1="192.90" y1="89.10" x2="192.90" y2="90.30" stroke="#333" stroke-width="0.45" />
<line x1="194.95" y1="89.10" x2="194.95" y2="90.30" stroke="#333" stroke-width="0.45" />
<line x1="197.00" y1="89.10" x2="197.00" y2="90.30" stroke="#333" stroke-width="0.45" />
<line x1="199.05" y1="89.10" x2="199.05" y2="90.30" stroke="#333" stroke-width="0.45" />
<line x1="201.10" y1="89.10" x2="201.10" y2="90.30" stroke="#333" stroke-width="0.45" />
<line x1="203.15" y1="89.10" x2="203.15" y2="90.30" stroke="#333" stroke-width="0.45" />
<line x1="205.20" y1="89.10" x2="205.20" y2="90.30" stroke="#333" stroke-width="0.45" />
<line x1="207.25" y1="89.10" x2="207.25" y2="90.30" stroke="#333" stroke-width="0.45" />
<line x1="209.30" y1="89.10" x2="209.30" y2="90.30" stroke="#333" stroke-width="0.45" />
<line x1="211.35" y1="89.10" x2="211.35" y2="90.30" stroke="#333" stroke-width="0.45" />
<line x1="161.00" y1="89.10" x2="161.00" y2="91.20" stroke="#000" stroke-width="0.8" />
<line x1="179.00" y1="89.10" x2="179.00" y2="91.20" stroke="#000" stroke-width="0.8" />
<line x1="197.00" y1="89.10" x2="197.00" y2="91.20" stroke="#000" stroke-width="0.8" />
<rect x="166.00" y="89.30" width="2.20" height="1.80" fill="#000" />
<text x="23.10" y="102.60" font-size="8.2" text-anchor="start" fill="#141213" stroke="#141213" stroke-width="0.16" textLength="50.30" lengthAdjust="spacingAndGlyphs" >Anti-adenovirus</text>
<line x1="75.00" y1="100.60" x2="86.00" y2="100.60" stroke="#000" stroke-width="0.9" />
<path d="M88.5,100.6 L84.5,98.6 L84.5,102.6 Z" fill="#000" />
<rect x="20.80" y="112.80" width="6.20" height="6.00" fill="#3ab54a" />
<text x="30.50" y="118.90" font-size="8.4" text-anchor="start" fill="#141213" stroke="#141213" stroke-width="0.16" textLength="47.50" lengthAdjust="spacingAndGlyphs" >ChAdOx1-S iv</text>
<rect x="84.20" y="112.80" width="6.20" height="6.00" fill="#3a78c6" />
<text x="93.40" y="118.90" font-size="8.4" text-anchor="start" fill="#141213" stroke="#141213" stroke-width="0.16" textLength="43.10" lengthAdjust="spacingAndGlyphs" >BNT162b2 iv</text>
<rect x="142.80" y="112.80" width="6.20" height="6.00" fill="#404040" />
<text x="152.20" y="118.90" font-size="8.4" text-anchor="start" fill="#141213" stroke="#141213" stroke-width="0.16" textLength="12.80" lengthAdjust="spacingAndGlyphs" >PBS</text>
<text x="223.00" y="13.60" font-size="11.5" text-anchor="start" fill="#000" stroke="#000" stroke-width="0.16" font-weight="bold" >B</text>
<line x1="260.50" y1="17.00" x2="260.50" y2="106.60" stroke="#000" stroke-width="1.4" />
<line x1="260.50" y1="106.60" x2="307.80" y2="106.60" stroke="#000" stroke-width="1.4" />
<line x1="257.50" y1="106.60" x2="260.50" y2="106.60" stroke="#000" stroke-width="0.9" />
<text x="255.00" y="109.10" font-size="8" text-anchor="end" fill="#141213" stroke="#141213" stroke-width="0.16" >0</text>
<line x1="257.50" y1="78.60" x2="260.50" y2="78.60" stroke="#000" stroke-width="0.9" />
<text x="255.00" y="81.10" font-size="8" text-anchor="end" fill="#141213" stroke="#141213" stroke-width="0.16" >5</text>
<line x1="257.50" y1="50.60" x2="260.50" y2="50.60" stroke="#000" stroke-width="0.9" />
<text x="255.00" y="53.10" font-size="8" text-anchor="end" fill="#141213" stroke="#141213" stroke-width="0.16" >10</text>
<line x1="257.50" y1="22.60" x2="260.50" y2="22.60" stroke="#000" stroke-width="0.9" />
<text x="255.00" y="25.10" font-size="8" text-anchor="end" fill="#141213" stroke="#141213" stroke-width="0.16" >15</text>
<text x="231.30" y="62.20" font-size="9.2" text-anchor="middle" fill="#141213" stroke="#141213" stroke-width="0.16" textLength="63.00" lengthAdjust="spacingAndGlyphs" transform="rotate(-90 231.30 62.20)" >% Platelets binding</text>
<text x="242.00" y="62.00" font-size="9.2" text-anchor="middle" fill="#141213" stroke="#141213" stroke-width="0.16" textLength="37.50" lengthAdjust="spacingAndGlyphs" transform="rotate(-90 242.00 62.00)" >adenovirus</text>
<rect x="265.30" y="68.52" width="9.20" height="38.08" fill="#a8dc9c" />
<line x1="269.90" y1="57.32" x2="269.90" y2="81.40" stroke="#222" stroke-width="1" />
<line x1="267.90" y1="57.32" x2="271.90" y2="57.32" stroke="#222" stroke-width="1" />
<line x1="267.90" y1="81.40" x2="271.90" y2="81.40" stroke="#222" stroke-width="1" />
<circle cx="269.90" cy="37.72" r="1.6" fill="#3ab54a"/>
<circle cx="269.90" cy="60.68" r="1.6" fill="#3ab54a"/>
<circle cx="269.90" cy="85.88" r="1.6" fill="#3ab54a"/>
<circle cx="269.90" cy="90.36" r="1.6" fill="#3ab54a"/>
<circle cx="269.90" cy="27.90" r="1.1" fill="#111"/>
<line x1="269.90" y1="26.35" x2="269.90" y2="29.45" stroke="#111" stroke-width="0.5"/>
<line x1="268.56" y1="27.12" x2="271.24" y2="28.67" stroke="#111" stroke-width="0.5"/>
<line x1="271.24" y1="27.12" x2="268.56" y2="28.67" stroke="#111" stroke-width="0.5"/>
<rect x="279.40" y="99.88" width="9.20" height="6.72" fill="#a6c3e3" />
<line x1="284.00" y1="96.52" x2="284.00" y2="103.24" stroke="#222" stroke-width="1" />
<line x1="282.00" y1="96.52" x2="286.00" y2="96.52" stroke="#222" stroke-width="1" />
<circle cx="284.00" cy="91.48" r="1.5" fill="#1a4f95"/>
<circle cx="284.00" cy="99.88" r="1.5" fill="#1a4f95"/>
<circle cx="282.00" cy="102.12" r="1.5" fill="#1a4f95"/>
<circle cx="286.00" cy="103.80" r="1.5" fill="#1a4f95"/>
<circle cx="283.00" cy="104.92" r="1.5" fill="#1a4f95"/>
<circle cx="285.50" cy="101.00" r="1.5" fill="#1a4f95"/>
<circle cx="295.50" cy="105.20" r="1.5" fill="#d2143a"/>
<circle cx="298.00" cy="104.64" r="1.5" fill="#d2143a"/>
<circle cx="300.50" cy="105.48" r="1.5" fill="#d2143a"/>
<circle cx="299.00" cy="105.76" r="1.5" fill="#d2143a"/>
<rect x="295.00" y="104.92" width="6.00" height="1.00" fill="#d2143a" />
<line x1="269.90" y1="106.60" x2="269.90" y2="110.00" stroke="#000" stroke-width="1.0" />
<line x1="284.00" y1="106.60" x2="284.00" y2="110.00" stroke="#000" stroke-width="1.0" />
<line x1="298.00" y1="106.60" x2="298.00" y2="110.00" stroke="#000" stroke-width="1.0" />
<text x="270.90" y="116.60" font-size="8.6" text-anchor="end" fill="#141213" stroke="#141213" stroke-width="0.16" dominant-baseline="central" textLength="38.00" lengthAdjust="spacingAndGlyphs" transform="rotate(-43 270.90 116.60)" >ChAdOx1-S</text>
<text x="285.20" y="114.20" font-size="8.6" text-anchor="end" fill="#141213" stroke="#141213" stroke-width="0.16" dominant-baseline="central" textLength="34.00" lengthAdjust="spacingAndGlyphs" transform="rotate(-43 285.20 114.20)" >BNT162b2</text>
<text x="298.80" y="115.60" font-size="8.6" text-anchor="end" fill="#141213" stroke="#141213" stroke-width="0.16" dominant-baseline="central" textLength="12.00" lengthAdjust="spacingAndGlyphs" transform="rotate(-43 298.80 115.60)" >Ctrl</text>
<text x="316.50" y="14.80" font-size="11.5" text-anchor="start" fill="#000" stroke="#000" stroke-width="0.16" font-weight="bold" >C</text>
<line x1="353.50" y1="20.80" x2="353.50" y2="108.00" stroke="#000" stroke-width="1.4" />
<line x1="353.50" y1="108.00" x2="390.70" y2="108.00" stroke="#000" stroke-width="1.4" />
<line x1="350.50" y1="108.00" x2="353.50" y2="108.00" stroke="#000" stroke-width="0.9" />
<text x="347.30" y="110.50" font-size="8" text-anchor="end" fill="#141213" stroke="#141213" stroke-width="0.16" >0</text>
<line x1="350.50" y1="86.92" x2="353.50" y2="86.92" stroke="#000" stroke-width="0.9" />
<text x="347.30" y="89.42" font-size="8" text-anchor="end" fill="#141213" stroke="#141213" stroke-width="0.16" >500</text>
<line x1="350.50" y1="65.85" x2="353.50" y2="65.85" stroke="#000" stroke-width="0.9" />
<text x="347.30" y="68.35" font-size="8" text-anchor="end" fill="#141213" stroke="#141213" stroke-width="0.16" >1000</text>
<line x1="350.50" y1="44.77" x2="353.50" y2="44.77" stroke="#000" stroke-width="0.9" />
<text x="347.30" y="47.27" font-size="8" text-anchor="end" fill="#141213" stroke="#141213" stroke-width="0.16" >1500</text>
<line x1="350.50" y1="23.70" x2="353.50" y2="23.70" stroke="#000" stroke-width="0.9" />
<text x="347.30" y="26.20" font-size="8" text-anchor="end" fill="#141213" stroke="#141213" stroke-width="0.16" >2000</text>
<text x="323.70" y="65.60" font-size="8.6" text-anchor="middle" fill="#141213" stroke="#141213" stroke-width="0.16" textLength="59.40" lengthAdjust="spacingAndGlyphs" transform="rotate(-90 323.70 65.60)" >Act. GPIIb/IIIa MFI</text>
<line x1="360.65" y1="71.70" x2="360.65" y2="73.90" stroke="#222" stroke-width="0.9" />
<line x1="360.65" y1="91.70" x2="360.65" y2="93.70" stroke="#222" stroke-width="0.9" />
<line x1="359.01" y1="71.70" x2="362.29" y2="71.70" stroke="#222" stroke-width="0.9" />
<line x1="359.01" y1="93.70" x2="362.29" y2="93.70" stroke="#222" stroke-width="0.9" />
<rect x="357.00" y="73.90" width="7.30" height="17.80" fill="#7ea4cb" />
<line x1="357.00" y1="82.40" x2="364.30" y2="82.40" stroke="#111" stroke-width="1.0" />
<line x1="372.00" y1="44.80" x2="372.00" y2="48.90" stroke="#222" stroke-width="0.9" />
<line x1="372.00" y1="64.00" x2="372.00" y2="65.00" stroke="#222" stroke-width="0.9" />
<line x1="370.20" y1="44.80" x2="373.80" y2="44.80" stroke="#222" stroke-width="0.9" />
<line x1="370.20" y1="65.00" x2="373.80" y2="65.00" stroke="#222" stroke-width="0.9" />
<rect x="368.00" y="48.90" width="8.00" height="15.10" fill="#94d994" />
<line x1="368.00" y1="61.40" x2="376.00" y2="61.40" stroke="#111" stroke-width="1.0" />
<ellipse cx="383.0" cy="94.3" rx="3.6" ry="1.6" fill="#7a2434"/>
<line x1="380.00" y1="94.30" x2="386.00" y2="94.30" stroke="#2a0810" stroke-width="0.9" />
<line x1="360.60" y1="108.00" x2="360.60" y2="111.40" stroke="#000" stroke-width="1.0" />
<line x1="372.00" y1="108.00" x2="372.00" y2="111.40" stroke="#000" stroke-width="1.0" />
<line x1="383.00" y1="108.00" x2="383.00" y2="111.40" stroke="#000" stroke-width="1.0" />
<line x1="361.40" y1="29.85" x2="382.60" y2="29.85" stroke="#222" stroke-width="1.2" />
<text x="371.80" y="27.20" font-size="8.2" text-anchor="middle" fill="#141213" stroke="#141213" stroke-width="0.16" textLength="13.00" lengthAdjust="spacingAndGlyphs" >n.s.</text>
<line x1="361.40" y1="36.90" x2="371.80" y2="36.90" stroke="#222" stroke-width="1.2" />
<circle cx="364.75" cy="33.40" r="1.1" fill="#111"/>
<line x1="364.75" y1="31.85" x2="364.75" y2="34.95" stroke="#111" stroke-width="0.5"/>
<line x1="363.41" y1="32.62" x2="366.09" y2="34.17" stroke="#111" stroke-width="0.5"/>
<line x1="366.09" y1="32.62" x2="363.41" y2="34.17" stroke="#111" stroke-width="0.5"/>
<circle cx="368.45" cy="33.40" r="1.1" fill="#111"/>
<line x1="368.45" y1="31.85" x2="368.45" y2="34.95" stroke="#111" stroke-width="0.5"/>
<line x1="367.11" y1="32.62" x2="369.79" y2="34.17" stroke="#111" stroke-width="0.5"/>
<line x1="369.79" y1="32.62" x2="367.11" y2="34.17" stroke="#111" stroke-width="0.5"/>
<line x1="372.20" y1="42.50" x2="382.60" y2="42.50" stroke="#222" stroke-width="1.2" />
<circle cx="373.40" cy="39.10" r="1.1" fill="#111"/>
<line x1="373.40" y1="37.55" x2="373.40" y2="40.65" stroke="#111" stroke-width="0.5"/>
<line x1="372.06" y1="38.33" x2="374.74" y2="39.88" stroke="#111" stroke-width="0.5"/>
<line x1="374.74" y1="38.33" x2="372.06" y2="39.88" stroke="#111" stroke-width="0.5"/>
<circle cx="377.10" cy="39.10" r="1.1" fill="#111"/>
<line x1="377.10" y1="37.55" x2="377.10" y2="40.65" stroke="#111" stroke-width="0.5"/>
<line x1="375.76" y1="38.33" x2="378.44" y2="39.88" stroke="#111" stroke-width="0.5"/>
<line x1="378.44" y1="38.33" x2="375.76" y2="39.88" stroke="#111" stroke-width="0.5"/>
<circle cx="380.80" cy="39.10" r="1.1" fill="#111"/>
<line x1="380.80" y1="37.55" x2="380.80" y2="40.65" stroke="#111" stroke-width="0.5"/>
<line x1="379.46" y1="38.33" x2="382.14" y2="39.88" stroke="#111" stroke-width="0.5"/>
<line x1="382.14" y1="38.33" x2="379.46" y2="39.88" stroke="#111" stroke-width="0.5"/>
<text x="362.60" y="116.00" font-size="8.6" text-anchor="end" fill="#141213" stroke="#141213" stroke-width="0.16" dominant-baseline="central" textLength="34.00" lengthAdjust="spacingAndGlyphs" transform="rotate(-42 362.60 116.00)" >BNT162b2</text>
<text x="372.80" y="116.00" font-size="8.6" text-anchor="end" fill="#141213" stroke="#141213" stroke-width="0.16" dominant-baseline="central" textLength="38.00" lengthAdjust="spacingAndGlyphs" transform="rotate(-42 372.80 116.00)" >ChAdOx1-S</text>
<text x="383.70" y="116.00" font-size="8.6" text-anchor="end" fill="#141213" stroke="#141213" stroke-width="0.16" dominant-baseline="central" textLength="12.50" lengthAdjust="spacingAndGlyphs" transform="rotate(-42 383.70 116.00)" >PBS</text>
<text x="427.80" y="107.00" font-size="8" text-anchor="end" fill="#141213" stroke="#141213" stroke-width="0.16" >0</text>
<text x="427.80" y="91.85" font-size="8" text-anchor="end" fill="#141213" stroke="#141213" stroke-width="0.16" >20</text>
<text x="427.80" y="76.70" font-size="8" text-anchor="end" fill="#141213" stroke="#141213" stroke-width="0.16" >40</text>
<text x="427.80" y="61.55" font-size="8" text-anchor="end" fill="#141213" stroke="#141213" stroke-width="0.16" >60</text>
<text x="427.80" y="46.40" font-size="8" text-anchor="end" fill="#141213" stroke="#141213" stroke-width="0.16" >80</text>
<text x="427.80" y="31.25" font-size="8" text-anchor="end" fill="#141213" stroke="#141213" stroke-width="0.16" >100</text>
<line x1="431.25" y1="104.50" x2="433.75" y2="104.50" stroke="#000" stroke-width="0.6" />
<line x1="432.25" y1="101.47" x2="433.75" y2="101.47" stroke="#000" stroke-width="0.6" />
<line x1="432.25" y1="98.44" x2="433.75" y2="98.44" stroke="#000" stroke-width="0.6" />
<line x1="432.25" y1="95.41" x2="433.75" y2="95.41" stroke="#000" stroke-width="0.6" />
<line x1="432.25" y1="92.38" x2="433.75" y2="92.38" stroke="#000" stroke-width="0.6" />
<line x1="431.25" y1="89.35" x2="433.75" y2="89.35" stroke="#000" stroke-width="0.6" />
<line x1="432.25" y1="86.32" x2="433.75" y2="86.32" stroke="#000" stroke-width="0.6" />
<line x1="432.25" y1="83.29" x2="433.75" y2="83.29" stroke="#000" stroke-width="0.6" />
<line x1="432.25" y1="80.26" x2="433.75" y2="80.26" stroke="#000" stroke-width="0.6" />
<line x1="432.25" y1="77.23" x2="433.75" y2="77.23" stroke="#000" stroke-width="0.6" />
<line x1="431.25" y1="74.20" x2="433.75" y2="74.20" stroke="#000" stroke-width="0.6" />
<line x1="432.25" y1="71.17" x2="433.75" y2="71.17" stroke="#000" stroke-width="0.6" />
<line x1="432.25" y1="68.14" x2="433.75" y2="68.14" stroke="#000" stroke-width="0.6" />
<line x1="432.25" y1="65.11" x2="433.75" y2="65.11" stroke="#000" stroke-width="0.6" />
<line x1="432.25" y1="62.08" x2="433.75" y2="62.08" stroke="#000" stroke-width="0.6" />
<line x1="431.25" y1="59.05" x2="433.75" y2="59.05" stroke="#000" stroke-width="0.6" />
<line x1="432.25" y1="56.02" x2="433.75" y2="56.02" stroke="#000" stroke-width="0.6" />
<line x1="432.25" y1="52.99" x2="433.75" y2="52.99" stroke="#000" stroke-width="0.6" />
<line x1="432.25" y1="49.96" x2="433.75" y2="49.96" stroke="#000" stroke-width="0.6" />
<line x1="432.25" y1="46.93" x2="433.75" y2="46.93" stroke="#000" stroke-width="0.6" />
<line x1="431.25" y1="43.90" x2="433.75" y2="43.90" stroke="#000" stroke-width="0.6" />
<line x1="432.25" y1="40.87" x2="433.75" y2="40.87" stroke="#000" stroke-width="0.6" />
<line x1="432.25" y1="37.84" x2="433.75" y2="37.84" stroke="#000" stroke-width="0.6" />
<line x1="432.25" y1="34.81" x2="433.75" y2="34.81" stroke="#000" stroke-width="0.6" />
<line x1="432.25" y1="31.78" x2="433.75" y2="31.78" stroke="#000" stroke-width="0.6" />
<line x1="431.25" y1="28.75" x2="433.75" y2="28.75" stroke="#000" stroke-width="0.6" />
<line x1="437.75" y1="105.00" x2="437.75" y2="106.80" stroke="#000" stroke-width="0.6" />
<line x1="440.35" y1="105.00" x2="440.35" y2="106.00" stroke="#000" stroke-width="0.6" />
<line x1="442.95" y1="105.00" x2="442.95" y2="106.00" stroke="#000" stroke-width="0.6" />
<line x1="445.55" y1="105.00" x2="445.55" y2="106.00" stroke="#000" stroke-width="0.6" />
<line x1="448.15" y1="105.00" x2="448.15" y2="106.00" stroke="#000" stroke-width="0.6" />
<line x1="450.75" y1="105.00" x2="450.75" y2="106.80" stroke="#000" stroke-width="0.6" />
<line x1="453.35" y1="105.00" x2="453.35" y2="106.00" stroke="#000" stroke-width="0.6" />
<line x1="455.95" y1="105.00" x2="455.95" y2="106.00" stroke="#000" stroke-width="0.6" />
<line x1="458.55" y1="105.00" x2="458.55" y2="106.00" stroke="#000" stroke-width="0.6" />
<line x1="461.15" y1="105.00" x2="461.15" y2="106.00" stroke="#000" stroke-width="0.6" />
<line x1="463.75" y1="105.00" x2="463.75" y2="106.80" stroke="#000" stroke-width="0.6" />
<line x1="466.35" y1="105.00" x2="466.35" y2="106.00" stroke="#000" stroke-width="0.6" />
<line x1="468.95" y1="105.00" x2="468.95" y2="106.00" stroke="#000" stroke-width="0.6" />
<line x1="471.55" y1="105.00" x2="471.55" y2="106.00" stroke="#000" stroke-width="0.6" />
<line x1="474.15" y1="105.00" x2="474.15" y2="106.00" stroke="#000" stroke-width="0.6" />
<line x1="476.75" y1="105.00" x2="476.75" y2="106.80" stroke="#000" stroke-width="0.6" />
<line x1="479.35" y1="105.00" x2="479.35" y2="106.00" stroke="#000" stroke-width="0.6" />
<line x1="481.95" y1="105.00" x2="481.95" y2="106.00" stroke="#000" stroke-width="0.6" />
<line x1="484.55" y1="105.00" x2="484.55" y2="106.00" stroke="#000" stroke-width="0.6" />
<line x1="487.15" y1="105.00" x2="487.15" y2="106.00" stroke="#000" stroke-width="0.6" />
<line x1="489.75" y1="105.00" x2="489.75" y2="106.80" stroke="#000" stroke-width="0.6" />
<line x1="492.35" y1="105.00" x2="492.35" y2="106.00" stroke="#000" stroke-width="0.6" />
<line x1="494.95" y1="105.00" x2="494.95" y2="106.00" stroke="#000" stroke-width="0.6" />
<line x1="497.55" y1="105.00" x2="497.55" y2="106.00" stroke="#000" stroke-width="0.6" />
<line x1="500.15" y1="105.00" x2="500.15" y2="106.00" stroke="#000" stroke-width="0.6" />
<line x1="502.75" y1="105.00" x2="502.75" y2="106.80" stroke="#000" stroke-width="0.6" />
<line x1="505.35" y1="105.00" x2="505.35" y2="106.00" stroke="#000" stroke-width="0.6" />
<line x1="507.95" y1="105.00" x2="507.95" y2="106.00" stroke="#000" stroke-width="0.6" />
<line x1="510.55" y1="105.00" x2="510.55" y2="106.00" stroke="#000" stroke-width="0.6" />
<line x1="513.15" y1="105.00" x2="513.15" y2="106.00" stroke="#000" stroke-width="0.6" />
<path d="M445.58,104.05 L445.83,103.89 L446.08,103.68 L446.33,103.41 L446.58,103.06 L446.83,102.62 L447.08,102.07 L447.33,101.39 L447.58,100.55 L447.83,99.54 L448.08,98.32 L448.33,96.87 L448.58,95.16 L448.83,93.18 L449.08,90.91 L449.33,88.34 L449.58,85.45 L449.83,82.25 L450.08,78.76 L450.33,74.99 L450.58,70.98 L450.83,66.77 L451.08,62.43 L451.33,58.03 L451.58,53.63 L451.83,49.33 L452.08,45.21 L452.33,41.37 L452.58,37.91 L452.83,34.90 L453.08,32.43 L453.33,30.55 L453.58,29.32 L453.83,28.78 L454.08,28.92 L454.33,29.62 L454.58,30.80 L454.83,32.42 L455.08,34.46 L455.33,36.86 L455.58,39.58 L455.83,42.56 L456.08,45.76 L456.33,49.11 L456.58,52.57 L456.83,56.08 L457.08,59.59 L457.33,63.05 L457.58,66.44 L457.83,69.71 L458.08,72.83 L458.33,75.79 L458.58,78.57 L458.83,81.15 L459.08,83.53 L459.33,85.71 L459.58,87.70 L459.83,89.49 L460.08,91.11 L460.33,92.55 L460.58,93.84 L460.83,94.98 L461.08,95.99 L461.33,96.88 L461.58,97.67 L461.83,98.36 L462.08,98.97 L462.33,99.51 L462.58,99.99 L462.83,100.41 L463.08,100.79 L463.33,101.12 L463.58,101.43 L463.83,101.70 L464.08,101.94 L464.33,102.16 L464.58,102.37 L464.83,102.55 L465.08,102.72 L465.33,102.87 L465.58,103.01 L465.83,103.14 L466.08,103.26 L466.33,103.37 L466.58,103.47 L466.83,103.56 L467.08,103.64 L467.33,103.72 L467.58,103.79 L467.83,103.86 L468.08,103.92 L468.33,103.97 L468.58,104.02 L468.83,104.07 L469.08,104.11 L469.33,104.15 L469.58,104.18 L469.83,104.22 L470.08,104.24 L470.33,104.27 L470.58,104.29 L470.83,104.31 L471.08,104.33 L471.33,104.35 L471.58,104.37 L471.83,104.38 L472.08,104.39 L472.33,104.41 L472.58,104.42 L472.83,104.42 L473.08,104.43 L473.33,104.44 L473.58,104.45 L473.83,104.45 L474.08,104.46 L474.33,104.46 L474.58,104.47 L474.83,104.47 L475.08,104.47 L475.33,104.48 L475.58,104.48 L475.83,104.48 L476.08,104.48 L476.33,104.49 L476.58,104.49 L476.83,104.49 L477.08,104.49 L477.33,104.49 L477.58,104.49 L477.83,104.49 L478.08,104.49 L478.33,104.50 L478.58,104.50 L478.83,104.50 L479.08,104.50 L479.33,104.50 L479.58,104.50 L479.83,104.50 L480.08,104.50 L480.33,104.50 L480.58,104.50 L480.83,104.50 L481.08,104.50 L481.33,104.50 L481.58,104.50 L481.83,104.50 L482.08,104.50 L482.33,104.50 L482.58,104.50 L482.83,104.50 L483.08,104.50 L483.33,104.50 L483.58,104.50 L483.83,104.50 L483.83,104.50 Z" fill="#8fd490" stroke="#4ab551" stroke-width="0.7" />
<path d="M443.94,104.05 L444.19,103.86 L444.44,103.61 L444.69,103.28 L444.94,102.84 L445.19,102.28 L445.44,101.55 L445.69,100.63 L445.94,99.49 L446.19,98.08 L446.44,96.37 L446.69,94.34 L446.94,91.94 L447.19,89.15 L447.44,85.97 L447.69,82.40 L447.94,78.44 L448.19,74.14 L448.44,69.54 L448.69,64.71 L448.94,59.75 L449.19,54.77 L449.44,49.88 L449.69,45.21 L449.94,40.90 L450.19,37.08 L450.44,33.86 L450.69,31.37 L450.94,29.67 L451.19,28.84 L451.44,28.93 L451.69,30.01 L451.94,31.98 L452.19,34.77 L452.44,38.27 L452.69,42.34 L452.94,46.86 L453.19,51.69 L453.44,56.67 L453.69,61.69 L453.94,66.62 L454.19,71.36 L454.44,75.82 L454.69,79.94 L454.94,83.69 L455.19,87.04 L455.44,89.99 L455.69,92.55 L455.94,94.73 L456.19,96.57 L456.44,98.11 L456.69,99.37 L456.94,100.40 L457.19,101.23 L457.44,101.89 L457.69,102.42 L457.94,102.84 L458.19,103.17 L458.44,103.43 L458.69,103.63 L458.94,103.80 L459.19,103.92 L459.44,104.03 L459.69,104.11 L459.94,104.18 L460.19,104.23 L460.44,104.27 L460.69,104.31 L460.94,104.34 L461.19,104.37 L461.44,104.39 L461.69,104.41 L461.94,104.42 L462.19,104.44 L462.44,104.45 L462.69,104.46 L462.94,104.46 L463.19,104.47 L463.44,104.48 L463.69,104.48 L463.94,104.48 L464.19,104.49 L464.44,104.49 L464.69,104.49 L464.94,104.49 L465.19,104.49 L465.44,104.50 L465.69,104.50 L465.94,104.50 L466.19,104.50 L466.44,104.50 L466.69,104.50 L466.94,104.50 L467.19,104.50 L467.44,104.50 L467.69,104.50 L467.94,104.50 L468.19,104.50 L468.44,104.50 L468.69,104.50 L468.94,104.50 L469.19,104.50 L469.44,104.50 L469.69,104.50 L469.94,104.50 L470.19,104.50 L470.44,104.50 L470.69,104.50 L470.94,104.50 L471.19,104.50 L471.44,104.50 L471.69,104.50 L471.94,104.50 L472.19,104.50 L472.44,104.50 L472.69,104.50 L472.94,104.50 L473.19,104.50 L473.44,104.50 L473.69,104.50 L473.94,104.50 L474.19,104.50 L474.44,104.50 L474.69,104.50 L474.94,104.50 L475.19,104.50 L475.44,104.50 L475.69,104.50 L475.94,104.50 L476.19,104.50 L476.44,104.50 L476.69,104.50 L476.94,104.50 L477.19,104.50 L477.44,104.50 L477.69,104.50 L477.94,104.50 L478.19,104.50 L478.44,104.50 L478.69,104.50 L478.94,104.50 L479.19,104.50 L479.44,104.50 L479.69,104.50 L479.94,104.50 L480.19,104.50 L480.44,104.50 L480.69,104.50 L480.94,104.50 L481.19,104.50 L481.19,104.50 Z" fill="#2c6a66" stroke="#2a56a8" stroke-width="0.75" fill-opacity="0.68"/>
<rect x="433.75" y="25.00" width="79.50" height="80.00" fill="none" stroke="#000" stroke-width="1.1" />
<text x="408.80" y="63.80" font-size="9.2" text-anchor="middle" fill="#141213" stroke="#141213" stroke-width="0.16" textLength="67.50" lengthAdjust="spacingAndGlyphs" transform="rotate(-90 408.80 63.80)" >Normalized to mode</text>
<text x="473.70" y="121.20" font-size="9.2" text-anchor="middle" fill="#141213" stroke="#141213" stroke-width="0.16" textLength="45.80" lengthAdjust="spacingAndGlyphs" >Act. GPIIb/IIIA</text>
<text x="6.50" y="160.20" font-size="11.5" text-anchor="start" fill="#000" stroke="#000" stroke-width="0.16" font-weight="bold" >D</text>
<line x1="45.50" y1="164.50" x2="45.50" y2="269.20" stroke="#000" stroke-width="1.4" />
<line x1="45.50" y1="269.20" x2="190.70" y2="269.20" stroke="#000" stroke-width="1.4" />
<line x1="42.50" y1="269.20" x2="45.50" y2="269.20" stroke="#000" stroke-width="0.9" />
<text x="38.60" y="271.70" font-size="8" text-anchor="end" fill="#141213" stroke="#141213" stroke-width="0.16" >0</text>
<line x1="42.50" y1="235.37" x2="45.50" y2="235.37" stroke="#000" stroke-width="0.9" />
<text x="38.60" y="237.87" font-size="8" text-anchor="end" fill="#141213" stroke="#141213" stroke-width="0.16" >500</text>
<line x1="42.50" y1="201.53" x2="45.50" y2="201.53" stroke="#000" stroke-width="0.9" />
<text x="38.60" y="204.03" font-size="8" text-anchor="end" fill="#141213" stroke="#141213" stroke-width="0.16" >1000</text>
<line x1="42.50" y1="167.70" x2="45.50" y2="167.70" stroke="#000" stroke-width="0.9" />
<text x="38.60" y="170.20" font-size="8" text-anchor="end" fill="#141213" stroke="#141213" stroke-width="0.16" >1500</text>
<text x="14.80" y="221.00" font-size="8.8" text-anchor="middle" fill="#141213" stroke="#141213" stroke-width="0.16" textLength="49.50" lengthAdjust="spacingAndGlyphs" transform="rotate(-90 14.80 221.00)" >PLTC (1000/µl)</text>
<line x1="58.00" y1="269.20" x2="58.00" y2="272.60" stroke="#000" stroke-width="1.0" />
<text x="58.00" y="283.30" font-size="8.2" text-anchor="middle" fill="#141213" stroke="#141213" stroke-width="0.16" >1h</text>
<line x1="78.20" y1="269.20" x2="78.20" y2="272.60" stroke="#000" stroke-width="1.0" />
<text x="78.20" y="283.30" font-size="8.2" text-anchor="middle" fill="#141213" stroke="#141213" stroke-width="0.16" >8h</text>
<line x1="98.40" y1="269.20" x2="98.40" y2="272.60" stroke="#000" stroke-width="1.0" />
<text x="98.40" y="283.30" font-size="8.2" text-anchor="middle" fill="#141213" stroke="#141213" stroke-width="0.16" >24h</text>
<line x1="117.90" y1="269.20" x2="117.90" y2="272.60" stroke="#000" stroke-width="1.0" />
<text x="117.90" y="283.30" font-size="8.2" text-anchor="middle" fill="#141213" stroke="#141213" stroke-width="0.16" >48h</text>
<line x1="137.90" y1="269.20" x2="137.90" y2="272.60" stroke="#000" stroke-width="1.0" />
<text x="137.90" y="283.30" font-size="8.2" text-anchor="middle" fill="#141213" stroke="#141213" stroke-width="0.16" >72h</text>
<line x1="157.70" y1="269.20" x2="157.70" y2="272.60" stroke="#000" stroke-width="1.0" />
<text x="157.70" y="283.30" font-size="8.2" text-anchor="middle" fill="#141213" stroke="#141213" stroke-width="0.16" >96h</text>
<line x1="177.80" y1="269.20" x2="177.80" y2="272.60" stroke="#000" stroke-width="1.0" />
<text x="177.80" y="283.30" font-size="8.2" text-anchor="middle" fill="#141213" stroke="#141213" stroke-width="0.16" >144h</text>
<path d="M98.40,189.22 L117.90,193.48 L157.70,186.31" fill="none" stroke="#a2c68a" stroke-width="1.6" />
<line x1="98.40" y1="193.41" x2="98.40" y2="183.94" stroke="#111" stroke-width="1.0" />
<line x1="96.20" y1="193.41" x2="100.60" y2="193.41" stroke="#111" stroke-width="1.1" />
<line x1="96.20" y1="183.94" x2="100.60" y2="183.94" stroke="#111" stroke-width="1.1" />
<line x1="157.70" y1="189.35" x2="157.70" y2="181.23" stroke="#111" stroke-width="1.0" />
<line x1="155.50" y1="189.35" x2="159.90" y2="189.35" stroke="#111" stroke-width="1.1" />
<line x1="155.50" y1="181.23" x2="159.90" y2="181.23" stroke="#111" stroke-width="1.1" />
<path d="M96.10000000000001,189.218 L98.4,186.91799999999998 L100.7,189.218 L98.4,191.518 Z" fill="#a2c68a" />
<path d="M115.60000000000001,193.481 L117.9,191.18099999999998 L120.2,193.481 L117.9,195.781 Z" fill="#a2c68a" />
<path d="M155.39999999999998,186.30833333333334 L157.7,184.00833333333333 L160.0,186.30833333333334 L157.7,188.60833333333335 Z" fill="#a2c68a" />
<path d="M58.00,184.28 L78.20,191.52 L98.40,204.24 L117.90,205.39 L157.70,189.35 L177.80,183.26" fill="none" stroke="#3ab54a" stroke-width="1.6" />
<line x1="98.40" y1="208.30" x2="98.40" y2="198.83" stroke="#111" stroke-width="1.0" />
<line x1="96.20" y1="208.30" x2="100.60" y2="208.30" stroke="#111" stroke-width="1.1" />
<line x1="96.20" y1="198.83" x2="100.60" y2="198.83" stroke="#111" stroke-width="1.1" />
<line x1="117.90" y1="207.62" x2="117.90" y2="202.21" stroke="#111" stroke-width="1.0" />
<line x1="115.70" y1="207.62" x2="120.10" y2="207.62" stroke="#111" stroke-width="1.1" />
<line x1="115.70" y1="202.21" x2="120.10" y2="202.21" stroke="#111" stroke-width="1.1" />
<line x1="157.70" y1="191.38" x2="157.70" y2="187.32" stroke="#111" stroke-width="1.0" />
<line x1="155.50" y1="191.38" x2="159.90" y2="191.38" stroke="#111" stroke-width="1.1" />
<line x1="155.50" y1="187.32" x2="159.90" y2="187.32" stroke="#111" stroke-width="1.1" />
<line x1="177.80" y1="185.29" x2="177.80" y2="181.23" stroke="#111" stroke-width="1.0" />
<line x1="175.60" y1="185.29" x2="180.00" y2="185.29" stroke="#111" stroke-width="1.1" />
<line x1="175.60" y1="181.23" x2="180.00" y2="181.23" stroke="#111" stroke-width="1.1" />
<circle cx="58.00" cy="184.28" r="1.8" fill="#3ab54a"/>
<circle cx="78.20" cy="191.52" r="1.8" fill="#3ab54a"/>
<circle cx="98.40" cy="204.24" r="1.8" fill="#3ab54a"/>
<circle cx="117.90" cy="205.39" r="1.8" fill="#3ab54a"/>
<circle cx="157.70" cy="189.35" r="1.8" fill="#3ab54a"/>
<circle cx="177.80" cy="183.26" r="1.8" fill="#3ab54a"/>
<path d="M58.00,192.33 L78.20,187.73 L98.40,196.46" fill="none" stroke="#1f5fa6" stroke-width="1.6" />
<line x1="58.00" y1="194.09" x2="58.00" y2="190.03" stroke="#111" stroke-width="1.0" />
<line x1="55.80" y1="194.09" x2="60.20" y2="194.09" stroke="#111" stroke-width="1.1" />
<line x1="55.80" y1="190.03" x2="60.20" y2="190.03" stroke="#111" stroke-width="1.1" />
<circle cx="58.00" cy="192.33" r="1.8" fill="#1f5fa6"/>
<circle cx="78.20" cy="187.73" r="1.8" fill="#1f5fa6"/>
<circle cx="98.40" cy="196.46" r="1.8" fill="#1f5fa6"/>
<path d="M58.00,184.62 L78.20,185.83 L98.40,197.68" fill="none" stroke="#d2143a" stroke-width="1.6" />
<line x1="58.00" y1="190.71" x2="58.00" y2="178.53" stroke="#111" stroke-width="1.0" />
<line x1="55.80" y1="190.71" x2="60.20" y2="190.71" stroke="#111" stroke-width="1.1" />
<line x1="55.80" y1="178.53" x2="60.20" y2="178.53" stroke="#111" stroke-width="1.1" />
<line x1="78.20" y1="191.38" x2="78.20" y2="179.20" stroke="#111" stroke-width="1.0" />
<line x1="76.00" y1="191.38" x2="80.40" y2="191.38" stroke="#111" stroke-width="1.1" />
<line x1="76.00" y1="179.20" x2="80.40" y2="179.20" stroke="#111" stroke-width="1.1" />
<line x1="98.40" y1="200.18" x2="98.40" y2="194.77" stroke="#111" stroke-width="1.0" />
<line x1="96.20" y1="200.18" x2="100.60" y2="200.18" stroke="#111" stroke-width="1.1" />
<line x1="96.20" y1="194.77" x2="100.60" y2="194.77" stroke="#111" stroke-width="1.1" />
<rect x="55.60" y="182.22" width="4.80" height="4.80" fill="#d2143a" />
<rect x="75.80" y="183.43" width="4.80" height="4.80" fill="#d2143a" />
<rect x="96.00" y="195.28" width="4.80" height="4.80" fill="#d2143a" />
<path d="M58.00,199.71 L78.20,207.22 L98.40,235.37 L117.90,248.90 L157.70,212.36 L177.80,204.24" fill="none" stroke="#136b4f" stroke-width="1.6" />
<line x1="58.00" y1="202.21" x2="58.00" y2="196.80" stroke="#111" stroke-width="1.0" />
<line x1="55.80" y1="202.21" x2="60.20" y2="202.21" stroke="#111" stroke-width="1.1" />
<line x1="55.80" y1="196.80" x2="60.20" y2="196.80" stroke="#111" stroke-width="1.1" />
<line x1="78.20" y1="219.80" x2="78.20" y2="194.09" stroke="#111" stroke-width="1.0" />
<line x1="76.00" y1="219.80" x2="80.40" y2="219.80" stroke="#111" stroke-width="1.1" />
<line x1="76.00" y1="194.09" x2="80.40" y2="194.09" stroke="#111" stroke-width="1.1" />
<line x1="98.40" y1="238.07" x2="98.40" y2="231.98" stroke="#111" stroke-width="1.0" />
<line x1="96.20" y1="238.07" x2="100.60" y2="238.07" stroke="#111" stroke-width="1.1" />
<line x1="96.20" y1="231.98" x2="100.60" y2="231.98" stroke="#111" stroke-width="1.1" />
<line x1="157.70" y1="213.71" x2="157.70" y2="211.01" stroke="#111" stroke-width="1.0" />
<line x1="155.50" y1="213.71" x2="159.90" y2="213.71" stroke="#111" stroke-width="1.1" />
<line x1="155.50" y1="211.01" x2="159.90" y2="211.01" stroke="#111" stroke-width="1.1" />
<line x1="177.80" y1="208.30" x2="177.80" y2="199.50" stroke="#111" stroke-width="1.0" />
<line x1="175.60" y1="208.30" x2="180.00" y2="208.30" stroke="#111" stroke-width="1.1" />
<line x1="175.60" y1="199.50" x2="180.00" y2="199.50" stroke="#111" stroke-width="1.1" />
<circle cx="58.00" cy="199.71" r="1.8" fill="#136b4f"/>
<circle cx="78.20" cy="207.22" r="1.8" fill="#136b4f"/>
<circle cx="98.40" cy="235.37" r="1.8" fill="#136b4f"/>
<circle cx="117.90" cy="248.90" r="1.8" fill="#136b4f"/>
<circle cx="157.70" cy="212.36" r="1.8" fill="#136b4f"/>
<circle cx="177.80" cy="204.24" r="1.8" fill="#136b4f"/>
<circle cx="56.35" cy="171.40" r="1.1" fill="#111"/>
<line x1="56.35" y1="169.85" x2="56.35" y2="172.95" stroke="#111" stroke-width="0.5"/>
<line x1="55.01" y1="170.62" x2="57.69" y2="172.18" stroke="#111" stroke-width="0.5"/>
<line x1="57.69" y1="170.62" x2="55.01" y2="172.18" stroke="#111" stroke-width="0.5"/>
<circle cx="60.05" cy="171.40" r="1.1" fill="#111"/>
<line x1="60.05" y1="169.85" x2="60.05" y2="172.95" stroke="#111" stroke-width="0.5"/>
<line x1="58.71" y1="170.62" x2="61.39" y2="172.18" stroke="#111" stroke-width="0.5"/>
<line x1="61.39" y1="170.62" x2="58.71" y2="172.18" stroke="#111" stroke-width="0.5"/>
<circle cx="73.40" cy="171.40" r="1.1" fill="#111"/>
<line x1="73.40" y1="169.85" x2="73.40" y2="172.95" stroke="#111" stroke-width="0.5"/>
<line x1="72.06" y1="170.62" x2="74.74" y2="172.18" stroke="#111" stroke-width="0.5"/>
<line x1="74.74" y1="170.62" x2="72.06" y2="172.18" stroke="#111" stroke-width="0.5"/>
<circle cx="77.10" cy="171.40" r="1.1" fill="#111"/>
<line x1="77.10" y1="169.85" x2="77.10" y2="172.95" stroke="#111" stroke-width="0.5"/>
<line x1="75.76" y1="170.62" x2="78.44" y2="172.18" stroke="#111" stroke-width="0.5"/>
<line x1="78.44" y1="170.62" x2="75.76" y2="172.18" stroke="#111" stroke-width="0.5"/>
<circle cx="80.80" cy="171.40" r="1.1" fill="#111"/>
<line x1="80.80" y1="169.85" x2="80.80" y2="172.95" stroke="#111" stroke-width="0.5"/>
<line x1="79.46" y1="170.62" x2="82.14" y2="172.18" stroke="#111" stroke-width="0.5"/>
<line x1="82.14" y1="170.62" x2="79.46" y2="172.18" stroke="#111" stroke-width="0.5"/>
<circle cx="93.10" cy="171.40" r="1.1" fill="#111"/>
<line x1="93.10" y1="169.85" x2="93.10" y2="172.95" stroke="#111" stroke-width="0.5"/>
<line x1="91.76" y1="170.62" x2="94.44" y2="172.18" stroke="#111" stroke-width="0.5"/>
<line x1="94.44" y1="170.62" x2="91.76" y2="172.18" stroke="#111" stroke-width="0.5"/>
<circle cx="96.80" cy="171.40" r="1.1" fill="#111"/>
<line x1="96.80" y1="169.85" x2="96.80" y2="172.95" stroke="#111" stroke-width="0.5"/>
<line x1="95.46" y1="170.62" x2="98.14" y2="172.18" stroke="#111" stroke-width="0.5"/>
<line x1="98.14" y1="170.62" x2="95.46" y2="172.18" stroke="#111" stroke-width="0.5"/>
<circle cx="100.50" cy="171.40" r="1.1" fill="#111"/>
<line x1="100.50" y1="169.85" x2="100.50" y2="172.95" stroke="#111" stroke-width="0.5"/>
<line x1="99.16" y1="170.62" x2="101.84" y2="172.18" stroke="#111" stroke-width="0.5"/>
<line x1="101.84" y1="170.62" x2="99.16" y2="172.18" stroke="#111" stroke-width="0.5"/>
<circle cx="153.00" cy="171.40" r="1.1" fill="#111"/>
<line x1="153.00" y1="169.85" x2="153.00" y2="172.95" stroke="#111" stroke-width="0.5"/>
<line x1="151.66" y1="170.62" x2="154.34" y2="172.18" stroke="#111" stroke-width="0.5"/>
<line x1="154.34" y1="170.62" x2="151.66" y2="172.18" stroke="#111" stroke-width="0.5"/>
<circle cx="156.70" cy="171.40" r="1.1" fill="#111"/>
<line x1="156.70" y1="169.85" x2="156.70" y2="172.95" stroke="#111" stroke-width="0.5"/>
<line x1="155.36" y1="170.62" x2="158.04" y2="172.18" stroke="#111" stroke-width="0.5"/>
<line x1="158.04" y1="170.62" x2="155.36" y2="172.18" stroke="#111" stroke-width="0.5"/>
<circle cx="160.40" cy="171.40" r="1.1" fill="#111"/>
<line x1="160.40" y1="169.85" x2="160.40" y2="172.95" stroke="#111" stroke-width="0.5"/>
<line x1="159.06" y1="170.62" x2="161.74" y2="172.18" stroke="#111" stroke-width="0.5"/>
<line x1="161.74" y1="170.62" x2="159.06" y2="172.18" stroke="#111" stroke-width="0.5"/>
<circle cx="175.75" cy="171.40" r="1.1" fill="#111"/>
<line x1="175.75" y1="169.85" x2="175.75" y2="172.95" stroke="#111" stroke-width="0.5"/>
<line x1="174.41" y1="170.62" x2="177.09" y2="172.18" stroke="#111" stroke-width="0.5"/>
<line x1="177.09" y1="170.62" x2="174.41" y2="172.18" stroke="#111" stroke-width="0.5"/>
<circle cx="179.45" cy="171.40" r="1.1" fill="#111"/>
<line x1="179.45" y1="169.85" x2="179.45" y2="172.95" stroke="#111" stroke-width="0.5"/>
<line x1="178.11" y1="170.62" x2="180.79" y2="172.18" stroke="#111" stroke-width="0.5"/>
<line x1="180.79" y1="170.62" x2="178.11" y2="172.18" stroke="#111" stroke-width="0.5"/>
<rect x="193.90" y="163.40" width="9.60" height="5.60" fill="#136b4f" />
<text x="206.60" y="169.20" font-size="8.2" text-anchor="start" fill="#141213" stroke="#141213" stroke-width="0.16" textLength="47.00" lengthAdjust="spacingAndGlyphs" >ChAdOx1-S iv</text>
<rect x="193.90" y="173.50" width="9.60" height="5.60" fill="#3ab54a" />
<text x="206.60" y="179.30" font-size="8.2" text-anchor="start" fill="#141213" stroke="#141213" stroke-width="0.16" textLength="50.50" lengthAdjust="spacingAndGlyphs" >ChAdOx1-S im</text>
<rect x="193.90" y="183.60" width="9.60" height="5.60" fill="#a2c68a" />
<text x="206.60" y="189.40" font-size="8.2" text-anchor="start" fill="#141213" stroke="#141213" stroke-width="0.16" textLength="96.20" lengthAdjust="spacingAndGlyphs" >Heat inactivated ChAdOx1-S</text>
<rect x="193.90" y="193.70" width="9.60" height="5.60" fill="#1f5fa6" />
<text x="206.60" y="199.50" font-size="8.2" text-anchor="start" fill="#141213" stroke="#141213" stroke-width="0.16" textLength="43.80" lengthAdjust="spacingAndGlyphs" >BNT162b2 iv</text>
<rect x="193.90" y="203.80" width="9.60" height="5.60" fill="#d2143a" />
<text x="206.60" y="209.60" font-size="8.2" text-anchor="start" fill="#141213" stroke="#141213" stroke-width="0.16" textLength="13.30" lengthAdjust="spacingAndGlyphs" >PBS</text>
<text x="351.30" y="160.40" font-size="11.5" text-anchor="start" fill="#000" stroke="#000" stroke-width="0.16" font-weight="bold" >E</text>
<line x1="389.60" y1="165.00" x2="389.60" y2="269.60" stroke="#000" stroke-width="1.4" />
<line x1="389.60" y1="269.60" x2="512.00" y2="269.60" stroke="#000" stroke-width="1.4" />
<line x1="386.60" y1="269.60" x2="389.60" y2="269.60" stroke="#000" stroke-width="0.9" />
<text x="383.10" y="272.10" font-size="8" text-anchor="end" fill="#141213" stroke="#141213" stroke-width="0.16" >0</text>
<line x1="386.60" y1="236.07" x2="389.60" y2="236.07" stroke="#000" stroke-width="0.9" />
<text x="383.10" y="238.57" font-size="8" text-anchor="end" fill="#141213" stroke="#141213" stroke-width="0.16" >500</text>
<line x1="386.60" y1="202.53" x2="389.60" y2="202.53" stroke="#000" stroke-width="0.9" />
<text x="383.10" y="205.03" font-size="8" text-anchor="end" fill="#141213" stroke="#141213" stroke-width="0.16" >1000</text>
<line x1="386.60" y1="169.00" x2="389.60" y2="169.00" stroke="#000" stroke-width="0.9" />
<text x="383.10" y="171.50" font-size="8" text-anchor="end" fill="#141213" stroke="#141213" stroke-width="0.16" >1500</text>
<text x="359.50" y="221.00" font-size="8.8" text-anchor="middle" fill="#141213" stroke="#141213" stroke-width="0.16" textLength="49.90" lengthAdjust="spacingAndGlyphs" transform="rotate(-90 359.50 221.00)" >PLTC (1000/µl)</text>
<line x1="408.10" y1="269.60" x2="408.10" y2="273.00" stroke="#000" stroke-width="1.0" />
<text x="408.10" y="283.30" font-size="8.2" text-anchor="middle" fill="#141213" stroke="#141213" stroke-width="0.16" >24h</text>
<line x1="437.20" y1="269.60" x2="437.20" y2="273.00" stroke="#000" stroke-width="1.0" />
<text x="437.20" y="283.30" font-size="8.2" text-anchor="middle" fill="#141213" stroke="#141213" stroke-width="0.16" >48h</text>
<line x1="465.50" y1="269.60" x2="465.50" y2="273.00" stroke="#000" stroke-width="1.0" />
<text x="465.50" y="283.30" font-size="8.2" text-anchor="middle" fill="#141213" stroke="#141213" stroke-width="0.16" >96h</text>
<line x1="493.80" y1="269.60" x2="493.80" y2="273.00" stroke="#000" stroke-width="1.0" />
<text x="493.80" y="283.30" font-size="8.2" text-anchor="middle" fill="#141213" stroke="#141213" stroke-width="0.16" >144h</text>
<path d="M408.10,205.89 L437.20,218.63 L465.50,193.81 L493.80,181.07" fill="none" stroke="#136b4f" stroke-width="1.6" />
<line x1="408.10" y1="209.24" x2="408.10" y2="202.53" stroke="#111" stroke-width="1.0" />
<line x1="405.90" y1="209.24" x2="410.30" y2="209.24" stroke="#111" stroke-width="1.1" />
<line x1="405.90" y1="202.53" x2="410.30" y2="202.53" stroke="#111" stroke-width="1.1" />
<line x1="437.20" y1="226.01" x2="437.20" y2="211.92" stroke="#111" stroke-width="1.0" />
<line x1="435.00" y1="226.01" x2="439.40" y2="226.01" stroke="#111" stroke-width="1.1" />
<line x1="435.00" y1="211.92" x2="439.40" y2="211.92" stroke="#111" stroke-width="1.1" />
<line x1="465.50" y1="198.51" x2="465.50" y2="189.12" stroke="#111" stroke-width="1.0" />
<line x1="463.30" y1="198.51" x2="467.70" y2="198.51" stroke="#111" stroke-width="1.1" />
<line x1="463.30" y1="189.12" x2="467.70" y2="189.12" stroke="#111" stroke-width="1.1" />
<line x1="493.80" y1="186.44" x2="493.80" y2="175.71" stroke="#111" stroke-width="1.0" />
<line x1="491.60" y1="186.44" x2="496.00" y2="186.44" stroke="#111" stroke-width="1.1" />
<line x1="491.60" y1="175.71" x2="496.00" y2="175.71" stroke="#111" stroke-width="1.1" />
<circle cx="408.10" cy="205.89" r="1.8" fill="#136b4f"/>
<circle cx="437.20" cy="218.63" r="1.8" fill="#136b4f"/>
<circle cx="465.50" cy="193.81" r="1.8" fill="#136b4f"/>
<circle cx="493.80" cy="181.07" r="1.8" fill="#136b4f"/>
<path d="M408.10,189.46 L437.20,190.80 L465.50,196.50 L493.80,179.40" fill="none" stroke="#3ab54a" stroke-width="1.6" />
<line x1="408.10" y1="191.80" x2="408.10" y2="187.11" stroke="#111" stroke-width="1.0" />
<line x1="405.90" y1="191.80" x2="410.30" y2="191.80" stroke="#111" stroke-width="1.1" />
<line x1="405.90" y1="187.11" x2="410.30" y2="187.11" stroke="#111" stroke-width="1.1" />
<line x1="465.50" y1="203.20" x2="465.50" y2="190.46" stroke="#111" stroke-width="1.0" />
<line x1="463.30" y1="203.20" x2="467.70" y2="203.20" stroke="#111" stroke-width="1.1" />
<line x1="463.30" y1="190.46" x2="467.70" y2="190.46" stroke="#111" stroke-width="1.1" />
<line x1="493.80" y1="182.41" x2="493.80" y2="175.71" stroke="#111" stroke-width="1.0" />
<line x1="491.60" y1="182.41" x2="496.00" y2="182.41" stroke="#111" stroke-width="1.1" />
<line x1="491.60" y1="175.71" x2="496.00" y2="175.71" stroke="#111" stroke-width="1.1" />
<circle cx="408.10" cy="189.46" r="1.8" fill="#3ab54a"/>
<circle cx="437.20" cy="190.80" r="1.8" fill="#3ab54a"/>
<circle cx="465.50" cy="196.50" r="1.8" fill="#3ab54a"/>
<circle cx="493.80" cy="179.40" r="1.8" fill="#3ab54a"/>
<circle cx="406.75" cy="182.60" r="1.1" fill="#111"/>
<line x1="406.75" y1="181.05" x2="406.75" y2="184.15" stroke="#111" stroke-width="0.5"/>
<line x1="405.41" y1="181.82" x2="408.09" y2="183.38" stroke="#111" stroke-width="0.5"/>
<line x1="408.09" y1="181.82" x2="405.41" y2="183.38" stroke="#111" stroke-width="0.5"/>
<circle cx="410.45" cy="182.60" r="1.1" fill="#111"/>
<line x1="410.45" y1="181.05" x2="410.45" y2="184.15" stroke="#111" stroke-width="0.5"/>
<line x1="409.11" y1="181.82" x2="411.79" y2="183.38" stroke="#111" stroke-width="0.5"/>
<line x1="411.79" y1="181.82" x2="409.11" y2="183.38" stroke="#111" stroke-width="0.5"/>
<circle cx="435.25" cy="183.60" r="1.1" fill="#111"/>
<line x1="435.25" y1="182.05" x2="435.25" y2="185.15" stroke="#111" stroke-width="0.5"/>
<line x1="433.91" y1="182.82" x2="436.59" y2="184.38" stroke="#111" stroke-width="0.5"/>
<line x1="436.59" y1="182.82" x2="433.91" y2="184.38" stroke="#111" stroke-width="0.5"/>
<circle cx="438.95" cy="183.60" r="1.1" fill="#111"/>
<line x1="438.95" y1="182.05" x2="438.95" y2="185.15" stroke="#111" stroke-width="0.5"/>
<line x1="437.61" y1="182.82" x2="440.29" y2="184.38" stroke="#111" stroke-width="0.5"/>
<line x1="440.29" y1="182.82" x2="437.61" y2="184.38" stroke="#111" stroke-width="0.5"/>
<text x="6.80" y="303.60" font-size="11.5" text-anchor="start" fill="#000" stroke="#000" stroke-width="0.16" font-weight="bold" >F</text>
<line x1="44.20" y1="308.00" x2="44.20" y2="407.70" stroke="#000" stroke-width="1.4" />
<line x1="44.20" y1="407.70" x2="192.30" y2="407.70" stroke="#000" stroke-width="1.4" />
<line x1="41.20" y1="407.70" x2="44.20" y2="407.70" stroke="#000" stroke-width="0.9" />
<text x="38.70" y="410.20" font-size="8" text-anchor="end" fill="#141213" stroke="#141213" stroke-width="0.16" >0</text>
<line x1="41.20" y1="375.90" x2="44.20" y2="375.90" stroke="#000" stroke-width="0.9" />
<text x="38.70" y="378.40" font-size="8" text-anchor="end" fill="#141213" stroke="#141213" stroke-width="0.16" >500</text>
<line x1="41.20" y1="344.10" x2="44.20" y2="344.10" stroke="#000" stroke-width="0.9" />
<text x="38.70" y="346.60" font-size="8" text-anchor="end" fill="#141213" stroke="#141213" stroke-width="0.16" >1000</text>
<line x1="41.20" y1="312.30" x2="44.20" y2="312.30" stroke="#000" stroke-width="0.9" />
<text x="38.70" y="314.80" font-size="8" text-anchor="end" fill="#141213" stroke="#141213" stroke-width="0.16" >1500</text>
<line x1="44.20" y1="407.70" x2="44.20" y2="411.10" stroke="#000" stroke-width="1.0" />
<text x="44.20" y="420.00" font-size="8.2" text-anchor="middle" fill="#141213" stroke="#141213" stroke-width="0.16" >0.0</text>
<line x1="79.98" y1="407.70" x2="79.98" y2="411.10" stroke="#000" stroke-width="1.0" />
<text x="79.98" y="420.00" font-size="8.2" text-anchor="middle" fill="#141213" stroke="#141213" stroke-width="0.16" >0.2</text>
<line x1="115.75" y1="407.70" x2="115.75" y2="411.10" stroke="#000" stroke-width="1.0" />
<text x="115.75" y="420.00" font-size="8.2" text-anchor="middle" fill="#141213" stroke="#141213" stroke-width="0.16" >0.4</text>
<line x1="151.53" y1="407.70" x2="151.53" y2="411.10" stroke="#000" stroke-width="1.0" />
<text x="151.53" y="420.00" font-size="8.2" text-anchor="middle" fill="#141213" stroke="#141213" stroke-width="0.16" >0.6</text>
<line x1="187.30" y1="407.70" x2="187.30" y2="411.10" stroke="#000" stroke-width="1.0" />
<text x="187.30" y="420.00" font-size="8.2" text-anchor="middle" fill="#141213" stroke="#141213" stroke-width="0.16" >0.8</text>
<text x="14.80" y="359.70" font-size="8.8" text-anchor="middle" fill="#141213" stroke="#141213" stroke-width="0.16" textLength="43.00" lengthAdjust="spacingAndGlyphs" transform="rotate(-90 14.80 359.70)" >PLTC 24h p.i.</text>
<text x="116.30" y="434.30" font-size="8.8" text-anchor="middle" fill="#141213" stroke="#141213" stroke-width="0.16" textLength="115.00" lengthAdjust="spacingAndGlyphs" >Adenovirus platelet binding 1h p.i.</text>
<path d="M64.60,336.47 L67.50,337.66 L70.41,338.84 L73.31,340.00 L76.22,341.16 L79.12,342.29 L82.03,343.42 L84.94,344.52 L87.84,345.61 L90.75,346.68 L93.65,347.73 L96.56,348.76 L99.46,349.77 L102.36,350.75 L105.27,351.71 L108.17,352.65 L111.08,353.57 L113.98,354.45 L116.89,355.32 L119.80,356.15 L122.70,356.97 L125.61,357.75 L128.51,358.52 L131.42,359.26 L134.32,359.98 L137.23,360.68 L140.13,361.35 L143.04,362.01 L145.94,362.65 L148.85,363.27 L151.75,363.88 L154.66,364.47 L157.56,365.04 L160.47,365.61 L163.37,366.16 L166.28,366.70 L169.18,367.23 L172.09,367.75 L174.99,368.26 L177.90,368.76 L180.80,369.25 L180.80,399.52 L177.90,398.28 L174.99,397.05 L172.09,395.83 L169.18,394.61 L166.28,393.41 L163.37,392.21 L160.47,391.03 L157.56,389.86 L154.66,388.71 L151.75,387.56 L148.85,386.44 L145.94,385.32 L143.04,384.23 L140.13,383.15 L137.23,382.10 L134.32,381.06 L131.42,380.05 L128.51,379.06 L125.61,378.09 L122.70,377.14 L119.80,376.22 L116.89,375.33 L113.98,374.46 L111.08,373.61 L108.17,372.79 L105.27,372.00 L102.36,371.22 L99.46,370.48 L96.56,369.75 L93.65,369.05 L90.75,368.36 L87.84,367.70 L84.94,367.06 L82.03,366.43 L79.12,365.82 L76.22,365.22 L73.31,364.64 L70.41,364.08 L67.50,363.52 L64.60,362.98 Z" fill="#bcd8ce" />
<line x1="64.60" y1="349.72" x2="180.80" y2="384.39" stroke="#136b4f" stroke-width="1.6" />
<circle cx="64.60" cy="350.00" r="1.5" fill="#136b4f"/>
<circle cx="68.10" cy="339.20" r="1.5" fill="#136b4f"/>
<circle cx="76.90" cy="360.40" r="1.5" fill="#136b4f"/>
<circle cx="89.20" cy="356.20" r="1.5" fill="#136b4f"/>
<circle cx="118.10" cy="375.80" r="1.5" fill="#136b4f"/>
<circle cx="143.10" cy="383.10" r="1.5" fill="#136b4f"/>
<circle cx="173.50" cy="386.90" r="1.5" fill="#136b4f"/>
<circle cx="180.80" cy="368.50" r="1.5" fill="#136b4f"/>
<text x="120.50" y="338.20" font-size="8.2" text-anchor="start" fill="#141213" stroke="#141213" stroke-width="0.16" textLength="34.00" lengthAdjust="spacingAndGlyphs" >p=0.0144</text>
<text x="120.50" y="349.00" font-size="8.2" text-anchor="start" fill="#141213" stroke="#141213" stroke-width="0.16" >r</text>
<text x="124.00" y="345.80" font-size="5.5" text-anchor="start" fill="#141213" stroke="#141213" stroke-width="0.16" >2</text>
<text x="127.20" y="349.00" font-size="8.2" text-anchor="start" fill="#141213" stroke="#141213" stroke-width="0.16" textLength="28.00" lengthAdjust="spacingAndGlyphs" >=0.6592</text>
<text x="205.50" y="304.40" font-size="11.5" text-anchor="start" fill="#000" stroke="#000" stroke-width="0.16" font-weight="bold" >G</text>
<line x1="237.40" y1="307.80" x2="237.40" y2="407.20" stroke="#000" stroke-width="1.4" />
<line x1="237.40" y1="407.20" x2="307.80" y2="407.20" stroke="#000" stroke-width="1.4" />
<line x1="234.40" y1="407.20" x2="237.40" y2="407.20" stroke="#000" stroke-width="0.9" />
<text x="231.40" y="409.70" font-size="8" text-anchor="end" fill="#141213" stroke="#141213" stroke-width="0.16" >0.0</text>
<line x1="234.40" y1="383.25" x2="237.40" y2="383.25" stroke="#000" stroke-width="0.9" />
<text x="231.40" y="385.75" font-size="8" text-anchor="end" fill="#141213" stroke="#141213" stroke-width="0.16" >0.2</text>
<line x1="234.40" y1="359.30" x2="237.40" y2="359.30" stroke="#000" stroke-width="0.9" />
<text x="231.40" y="361.80" font-size="8" text-anchor="end" fill="#141213" stroke="#141213" stroke-width="0.16" >0.4</text>
<line x1="234.40" y1="335.35" x2="237.40" y2="335.35" stroke="#000" stroke-width="0.9" />
<text x="231.40" y="337.85" font-size="8" text-anchor="end" fill="#141213" stroke="#141213" stroke-width="0.16" >0.6</text>
<line x1="234.40" y1="311.40" x2="237.40" y2="311.40" stroke="#000" stroke-width="0.9" />
<text x="231.40" y="313.90" font-size="8" text-anchor="end" fill="#141213" stroke="#141213" stroke-width="0.16" >0.8</text>
<text x="214.40" y="363.40" font-size="9.2" text-anchor="middle" fill="#141213" stroke="#141213" stroke-width="0.16" textLength="97.30" lengthAdjust="spacingAndGlyphs" transform="rotate(-90 214.40 363.40)" >Adenovirus platelet binding</text>
<rect x="242.40" y="335.35" width="9.10" height="71.85" fill="#86b4a3" />
<line x1="246.95" y1="324.57" x2="246.95" y2="344.93" stroke="#111" stroke-width="1.0" />
<line x1="244.75" y1="324.57" x2="249.15" y2="324.57" stroke="#111" stroke-width="1.1" />
<line x1="244.75" y1="344.93" x2="249.15" y2="344.93" stroke="#111" stroke-width="1.1" />
<circle cx="246.95" cy="316.19" r="1.6" fill="#136b4f"/>
<circle cx="246.95" cy="320.98" r="1.6" fill="#136b4f"/>
<circle cx="246.95" cy="337.75" r="1.6" fill="#136b4f"/>
<circle cx="246.95" cy="358.10" r="1.6" fill="#136b4f"/>
<rect x="256.20" y="388.04" width="9.20" height="19.16" fill="#b7e2ac" />
<line x1="260.80" y1="384.45" x2="260.80" y2="392.83" stroke="#111" stroke-width="1.0" />
<line x1="258.60" y1="384.45" x2="263.00" y2="384.45" stroke="#111" stroke-width="1.1" />
<line x1="258.60" y1="392.83" x2="263.00" y2="392.83" stroke="#111" stroke-width="1.1" />
<circle cx="260.80" cy="377.26" r="1.6" fill="#3ab54a"/>
<circle cx="258.80" cy="391.63" r="1.6" fill="#3ab54a"/>
<circle cx="262.80" cy="390.44" r="1.6" fill="#3ab54a"/>
<circle cx="259.30" cy="394.03" r="1.6" fill="#3ab54a"/>
<circle cx="261.80" cy="386.84" r="1.6" fill="#3ab54a"/>
<rect x="279.80" y="398.82" width="9.10" height="8.38" fill="#86b4a3" />
<line x1="284.35" y1="396.42" x2="284.35" y2="401.21" stroke="#111" stroke-width="1.0" />
<line x1="282.15" y1="396.42" x2="286.55" y2="396.42" stroke="#111" stroke-width="1.1" />
<line x1="282.15" y1="401.21" x2="286.55" y2="401.21" stroke="#111" stroke-width="1.1" />
<circle cx="284.35" cy="395.22" r="1.6" fill="#136b4f"/>
<circle cx="282.85" cy="397.62" r="1.6" fill="#136b4f"/>
<circle cx="285.85" cy="400.01" r="1.6" fill="#136b4f"/>
<circle cx="284.35" cy="402.41" r="1.6" fill="#136b4f"/>
<circle cx="283.35" cy="403.61" r="1.6" fill="#136b4f"/>
<rect x="293.60" y="400.61" width="9.20" height="6.59" fill="#b7e2ac" />
<line x1="298.20" y1="398.22" x2="298.20" y2="403.61" stroke="#111" stroke-width="1.0" />
<line x1="296.00" y1="398.22" x2="300.40" y2="398.22" stroke="#111" stroke-width="1.1" />
<line x1="296.00" y1="403.61" x2="300.40" y2="403.61" stroke="#111" stroke-width="1.1" />
<circle cx="298.20" cy="390.44" r="1.6" fill="#3ab54a"/>
<circle cx="296.70" cy="400.01" r="1.6" fill="#3ab54a"/>
<circle cx="299.70" cy="402.41" r="1.6" fill="#3ab54a"/>
<circle cx="298.20" cy="404.81" r="1.6" fill="#3ab54a"/>
<circle cx="299.20" cy="403.61" r="1.6" fill="#3ab54a"/>
<circle cx="258.05" cy="329.20" r="1.1" fill="#111"/>
<line x1="258.05" y1="327.65" x2="258.05" y2="330.75" stroke="#111" stroke-width="0.5"/>
<line x1="256.71" y1="328.43" x2="259.39" y2="329.97" stroke="#111" stroke-width="0.5"/>
<line x1="259.39" y1="328.43" x2="256.71" y2="329.97" stroke="#111" stroke-width="0.5"/>
<circle cx="261.75" cy="329.20" r="1.1" fill="#111"/>
<line x1="261.75" y1="327.65" x2="261.75" y2="330.75" stroke="#111" stroke-width="0.5"/>
<line x1="260.41" y1="328.43" x2="263.09" y2="329.97" stroke="#111" stroke-width="0.5"/>
<line x1="263.09" y1="328.43" x2="260.41" y2="329.97" stroke="#111" stroke-width="0.5"/>
<text x="299.00" y="384.00" font-size="8.0" text-anchor="middle" fill="#141213" stroke="#141213" stroke-width="0.16" textLength="11.50" lengthAdjust="spacingAndGlyphs" >n.s.</text>
<line x1="254.40" y1="407.20" x2="254.40" y2="410.60" stroke="#000" stroke-width="1.0" />
<line x1="291.50" y1="407.20" x2="291.50" y2="410.60" stroke="#000" stroke-width="1.0" />
<text x="254.40" y="422.40" font-size="8.2" text-anchor="middle" fill="#141213" stroke="#141213" stroke-width="0.16" >1h</text>
<text x="291.50" y="422.40" font-size="8.2" text-anchor="middle" fill="#141213" stroke="#141213" stroke-width="0.16" >24h</text>
<text x="351.50" y="303.60" font-size="11.5" text-anchor="start" fill="#000" stroke="#000" stroke-width="0.16" font-weight="bold" >H</text>
<line x1="389.60" y1="310.00" x2="389.60" y2="407.60" stroke="#000" stroke-width="1.4" />
<line x1="389.60" y1="407.60" x2="465.50" y2="407.60" stroke="#000" stroke-width="1.4" />
<line x1="386.60" y1="407.60" x2="389.60" y2="407.60" stroke="#000" stroke-width="0.9" />
<text x="383.50" y="410.10" font-size="8" text-anchor="end" fill="#141213" stroke="#141213" stroke-width="0.16" >0</text>
<line x1="386.60" y1="366.70" x2="389.60" y2="366.70" stroke="#000" stroke-width="0.9" />
<text x="383.50" y="369.20" font-size="8" text-anchor="end" fill="#141213" stroke="#141213" stroke-width="0.16" >50</text>
<line x1="386.60" y1="325.80" x2="389.60" y2="325.80" stroke="#000" stroke-width="0.9" />
<text x="383.50" y="328.30" font-size="8" text-anchor="end" fill="#141213" stroke="#141213" stroke-width="0.16" >100</text>
<text x="365.00" y="366.70" font-size="9.0" text-anchor="middle" fill="#141213" stroke="#141213" stroke-width="0.16" textLength="92.00" lengthAdjust="spacingAndGlyphs" transform="rotate(-90 365.00 366.70)" >Transfused platelet ratio (%)</text>
<rect x="397.60" y="325.80" width="11.00" height="49.08" fill="#88a9cc" />
<rect x="397.60" y="374.88" width="11.00" height="32.72" fill="#3db54a" />
<line x1="403.10" y1="365.06" x2="403.10" y2="383.06" stroke="#111" stroke-width="1.0" />
<line x1="400.60" y1="365.06" x2="405.60" y2="365.06" stroke="#111" stroke-width="1.0" />
<line x1="400.60" y1="383.06" x2="405.60" y2="383.06" stroke="#111" stroke-width="1.0" />
<line x1="403.10" y1="316.80" x2="403.10" y2="334.80" stroke="#111" stroke-width="1.0" />
<line x1="400.60" y1="316.80" x2="405.60" y2="316.80" stroke="#111" stroke-width="1.0" />
<line x1="400.60" y1="334.80" x2="405.60" y2="334.80" stroke="#111" stroke-width="1.0" />
<line x1="403.10" y1="407.60" x2="403.10" y2="411.00" stroke="#000" stroke-width="1.0" />
<text x="403.10" y="421.00" font-size="8.4" text-anchor="middle" fill="#141213" stroke="#141213" stroke-width="0.16" >10min</text>
<text x="403.10" y="314.00" font-size="8" text-anchor="middle" fill="#141213" stroke="#141213" stroke-width="0.16" textLength="12.50" lengthAdjust="spacingAndGlyphs" >n.s.</text>
<rect x="422.40" y="325.80" width="11.00" height="55.62" fill="#88a9cc" />
<rect x="422.40" y="381.42" width="11.00" height="26.18" fill="#3db54a" />
<line x1="427.90" y1="373.24" x2="427.90" y2="389.60" stroke="#111" stroke-width="1.0" />
<line x1="425.40" y1="373.24" x2="430.40" y2="373.24" stroke="#111" stroke-width="1.0" />
<line x1="425.40" y1="389.60" x2="430.40" y2="389.60" stroke="#111" stroke-width="1.0" />
<line x1="427.90" y1="317.62" x2="427.90" y2="334.80" stroke="#111" stroke-width="1.0" />
<line x1="425.40" y1="317.62" x2="430.40" y2="317.62" stroke="#111" stroke-width="1.0" />
<line x1="425.40" y1="334.80" x2="430.40" y2="334.80" stroke="#111" stroke-width="1.0" />
<line x1="427.90" y1="407.60" x2="427.90" y2="411.00" stroke="#000" stroke-width="1.0" />
<text x="427.90" y="421.00" font-size="8.4" text-anchor="middle" fill="#141213" stroke="#141213" stroke-width="0.16" >2h</text>
<text x="427.90" y="314.00" font-size="8" text-anchor="middle" fill="#141213" stroke="#141213" stroke-width="0.16" textLength="12.50" lengthAdjust="spacingAndGlyphs" >n.s.</text>
<rect x="447.60" y="325.80" width="10.30" height="64.62" fill="#88a9cc" />
<rect x="447.60" y="390.42" width="10.30" height="17.18" fill="#3db54a" />
<line x1="452.75" y1="382.24" x2="452.75" y2="398.60" stroke="#111" stroke-width="1.0" />
<line x1="450.25" y1="382.24" x2="455.25" y2="382.24" stroke="#111" stroke-width="1.0" />
<line x1="450.25" y1="398.60" x2="455.25" y2="398.60" stroke="#111" stroke-width="1.0" />
<line x1="452.75" y1="317.62" x2="452.75" y2="334.80" stroke="#111" stroke-width="1.0" />
<line x1="450.25" y1="317.62" x2="455.25" y2="317.62" stroke="#111" stroke-width="1.0" />
<line x1="450.25" y1="334.80" x2="455.25" y2="334.80" stroke="#111" stroke-width="1.0" />
<line x1="452.75" y1="407.60" x2="452.75" y2="411.00" stroke="#000" stroke-width="1.0" />
<text x="452.75" y="421.00" font-size="8.4" text-anchor="middle" fill="#141213" stroke="#141213" stroke-width="0.16" >24h</text>
<circle cx="451.15" cy="313.90" r="1.1" fill="#111"/>
<line x1="451.15" y1="312.35" x2="451.15" y2="315.45" stroke="#111" stroke-width="0.5"/>
<line x1="449.81" y1="313.12" x2="452.49" y2="314.67" stroke="#111" stroke-width="0.5"/>
<line x1="452.49" y1="313.12" x2="449.81" y2="314.67" stroke="#111" stroke-width="0.5"/>
<circle cx="454.85" cy="313.90" r="1.1" fill="#111"/>
<line x1="454.85" y1="312.35" x2="454.85" y2="315.45" stroke="#111" stroke-width="0.5"/>
<line x1="453.51" y1="313.12" x2="456.19" y2="314.67" stroke="#111" stroke-width="0.5"/>
<line x1="456.19" y1="313.12" x2="453.51" y2="314.67" stroke="#111" stroke-width="0.5"/>
<text x="475.00" y="345.60" font-size="8.2" text-anchor="middle" fill="#3a73b4" stroke="#3a73b4" stroke-width="0.05" textLength="33.40" lengthAdjust="spacingAndGlyphs" transform="rotate(-90 475.00 345.60)" >BNT162b2</text>
<text x="483.00" y="345.60" font-size="8.2" text-anchor="middle" fill="#3a73b4" stroke="#3a73b4" stroke-width="0.05" textLength="26.60" lengthAdjust="spacingAndGlyphs" transform="rotate(-90 483.00 345.60)" >platelets</text>
<text x="475.00" y="386.60" font-size="8.2" text-anchor="middle" fill="#3ab54a" stroke="#3ab54a" stroke-width="0.05" textLength="39.00" lengthAdjust="spacingAndGlyphs" transform="rotate(-90 475.00 386.60)" >ChAdOx1-S</text>
<text x="483.00" y="387.70" font-size="8.2" text-anchor="middle" fill="#3ab54a" stroke="#3ab54a" stroke-width="0.05" textLength="27.70" lengthAdjust="spacingAndGlyphs" transform="rotate(-90 483.00 387.70)" >platelets</text>
<text x="100.80" y="455.80" font-size="11.5" text-anchor="start" fill="#000" stroke="#000" stroke-width="0.16" font-weight="bold" >I</text>
<line x1="132.30" y1="460.40" x2="132.30" y2="554.20" stroke="#000" stroke-width="1.4" />
<line x1="132.30" y1="554.20" x2="419.50" y2="554.20" stroke="#000" stroke-width="1.4" />
<line x1="129.30" y1="554.20" x2="132.30" y2="554.20" stroke="#000" stroke-width="0.9" />
<text x="125.30" y="556.70" font-size="8.2" text-anchor="end" fill="#141213" stroke="#141213" stroke-width="0.16" >0.0</text>
<line x1="129.30" y1="523.63" x2="132.30" y2="523.63" stroke="#000" stroke-width="0.9" />
<text x="125.30" y="526.13" font-size="8.2" text-anchor="end" fill="#141213" stroke="#141213" stroke-width="0.16" >0.5</text>
<line x1="129.30" y1="493.07" x2="132.30" y2="493.07" stroke="#000" stroke-width="0.9" />
<text x="125.30" y="495.57" font-size="8.2" text-anchor="end" fill="#141213" stroke="#141213" stroke-width="0.16" >1.0</text>
<line x1="129.30" y1="462.50" x2="132.30" y2="462.50" stroke="#000" stroke-width="0.9" />
<text x="125.30" y="465.00" font-size="8.2" text-anchor="end" fill="#141213" stroke="#141213" stroke-width="0.16" >1.5</text>
<text x="108.20" y="508.50" font-size="8.5" text-anchor="middle" fill="#141213" stroke="#141213" stroke-width="0.16" textLength="53.30" lengthAdjust="spacingAndGlyphs" transform="rotate(-90 108.20 508.50)" >Normalized MFI</text>
<line x1="144.60" y1="493.10" x2="144.60" y2="517.90" stroke="#222" stroke-width="0.9" />
<line x1="143.10" y1="493.10" x2="146.10" y2="493.10" stroke="#222" stroke-width="0.9" />
<line x1="143.10" y1="517.90" x2="146.10" y2="517.90" stroke="#222" stroke-width="0.9" />
<rect x="141.90" y="493.10" width="5.40" height="15.70" fill="#146b4d" rx="1"/>
<line x1="141.90" y1="498.30" x2="147.30" y2="498.30" stroke="#111" stroke-width="1.0" />
<line x1="153.30" y1="495.00" x2="153.30" y2="512.70" stroke="#222" stroke-width="0.9" />
<line x1="151.80" y1="495.00" x2="154.80" y2="495.00" stroke="#222" stroke-width="0.9" />
<line x1="151.80" y1="512.70" x2="154.80" y2="512.70" stroke="#222" stroke-width="0.9" />
<rect x="150.60" y="496.30" width="5.40" height="10.60" fill="#3cb950" rx="1"/>
<line x1="150.60" y1="503.50" x2="156.00" y2="503.50" stroke="#111" stroke-width="1.0" />
<line x1="148.70" y1="554.20" x2="148.70" y2="557.60" stroke="#000" stroke-width="1.0" />
<text x="148.70" y="566.80" font-size="8" text-anchor="middle" fill="#141213" stroke="#141213" stroke-width="0.16" textLength="18.50" lengthAdjust="spacingAndGlyphs" >CD44</text>
<line x1="177.30" y1="493.10" x2="177.30" y2="510.60" stroke="#222" stroke-width="0.9" />
<line x1="175.80" y1="493.10" x2="178.80" y2="493.10" stroke="#222" stroke-width="0.9" />
<line x1="175.80" y1="510.60" x2="178.80" y2="510.60" stroke="#222" stroke-width="0.9" />
<rect x="174.60" y="493.10" width="5.40" height="16.70" fill="#146b4d" rx="1"/>
<line x1="174.60" y1="502.50" x2="180.00" y2="502.50" stroke="#111" stroke-width="1.0" />
<line x1="186.00" y1="509.40" x2="186.00" y2="523.30" stroke="#222" stroke-width="0.9" />
<line x1="184.50" y1="509.40" x2="187.50" y2="509.40" stroke="#222" stroke-width="0.9" />
<line x1="184.50" y1="523.30" x2="187.50" y2="523.30" stroke="#222" stroke-width="0.9" />
<rect x="183.30" y="509.80" width="5.40" height="10.60" fill="#3cb950" rx="1"/>
<line x1="183.30" y1="515.60" x2="188.70" y2="515.60" stroke="#111" stroke-width="1.0" />
<line x1="181.20" y1="554.20" x2="181.20" y2="557.60" stroke="#000" stroke-width="1.0" />
<text x="181.20" y="566.80" font-size="8" text-anchor="middle" fill="#141213" stroke="#141213" stroke-width="0.16" textLength="15.50" lengthAdjust="spacingAndGlyphs" >GPIb</text>
<circle cx="174.95" cy="484.00" r="1.1" fill="#111"/>
<line x1="174.95" y1="482.45" x2="174.95" y2="485.55" stroke="#111" stroke-width="0.5"/>
<line x1="173.61" y1="483.23" x2="176.29" y2="484.77" stroke="#111" stroke-width="0.5"/>
<line x1="176.29" y1="483.23" x2="173.61" y2="484.77" stroke="#111" stroke-width="0.5"/>
<circle cx="178.65" cy="484.00" r="1.1" fill="#111"/>
<line x1="178.65" y1="482.45" x2="178.65" y2="485.55" stroke="#111" stroke-width="0.5"/>
<line x1="177.31" y1="483.23" x2="179.99" y2="484.77" stroke="#111" stroke-width="0.5"/>
<line x1="179.99" y1="483.23" x2="177.31" y2="484.77" stroke="#111" stroke-width="0.5"/>
<line x1="209.50" y1="498.70" x2="209.50" y2="529.40" stroke="#222" stroke-width="0.9" />
<line x1="208.00" y1="498.70" x2="211.00" y2="498.70" stroke="#222" stroke-width="0.9" />
<line x1="208.00" y1="529.40" x2="211.00" y2="529.40" stroke="#222" stroke-width="0.9" />
<rect x="206.90" y="500.20" width="5.20" height="25.40" fill="#146b4d" rx="1"/>
<line x1="206.90" y1="504.60" x2="212.10" y2="504.60" stroke="#111" stroke-width="1.0" />
<line x1="218.20" y1="495.80" x2="218.20" y2="520.00" stroke="#222" stroke-width="0.9" />
<line x1="216.70" y1="495.80" x2="219.70" y2="495.80" stroke="#222" stroke-width="0.9" />
<line x1="216.70" y1="520.00" x2="219.70" y2="520.00" stroke="#222" stroke-width="0.9" />
<rect x="215.60" y="497.30" width="5.20" height="22.70" fill="#3cb950" rx="1"/>
<line x1="215.60" y1="504.40" x2="220.80" y2="504.40" stroke="#111" stroke-width="1.0" />
<line x1="213.80" y1="554.20" x2="213.80" y2="557.60" stroke="#000" stroke-width="1.0" />
<text x="213.80" y="566.80" font-size="8" text-anchor="middle" fill="#141213" stroke="#141213" stroke-width="0.16" textLength="18.00" lengthAdjust="spacingAndGlyphs" >CD31</text>
<line x1="242.00" y1="495.80" x2="242.00" y2="519.00" stroke="#222" stroke-width="0.9" />
<line x1="240.50" y1="495.80" x2="243.50" y2="495.80" stroke="#222" stroke-width="0.9" />
<line x1="240.50" y1="519.00" x2="243.50" y2="519.00" stroke="#222" stroke-width="0.9" />
<rect x="239.20" y="495.80" width="5.60" height="23.20" fill="#146b4d" rx="1"/>
<line x1="239.20" y1="496.90" x2="244.80" y2="496.90" stroke="#111" stroke-width="1.0" />
<line x1="250.80" y1="493.50" x2="250.80" y2="515.60" stroke="#222" stroke-width="0.9" />
<line x1="249.30" y1="493.50" x2="252.30" y2="493.50" stroke="#222" stroke-width="0.9" />
<line x1="249.30" y1="515.60" x2="252.30" y2="515.60" stroke="#222" stroke-width="0.9" />
<rect x="247.90" y="498.30" width="5.80" height="16.70" fill="#3cb950" rx="1"/>
<line x1="247.90" y1="501.20" x2="253.70" y2="501.20" stroke="#111" stroke-width="1.0" />
<line x1="246.00" y1="554.20" x2="246.00" y2="557.60" stroke="#000" stroke-width="1.0" />
<text x="246.00" y="566.80" font-size="8" text-anchor="middle" fill="#141213" stroke="#141213" stroke-width="0.16" textLength="18.00" lengthAdjust="spacingAndGlyphs" >CD41</text>
<line x1="274.50" y1="495.40" x2="274.50" y2="520.40" stroke="#222" stroke-width="0.9" />
<line x1="273.00" y1="495.40" x2="276.00" y2="495.40" stroke="#222" stroke-width="0.9" />
<line x1="273.00" y1="520.40" x2="276.00" y2="520.40" stroke="#222" stroke-width="0.9" />
<rect x="271.90" y="496.90" width="5.20" height="19.10" fill="#146b4d" rx="1"/>
<line x1="271.90" y1="497.50" x2="277.10" y2="497.50" stroke="#111" stroke-width="1.0" />
<line x1="283.20" y1="496.70" x2="283.20" y2="514.00" stroke="#222" stroke-width="0.9" />
<line x1="281.70" y1="496.70" x2="284.70" y2="496.70" stroke="#222" stroke-width="0.9" />
<line x1="281.70" y1="514.00" x2="284.70" y2="514.00" stroke="#222" stroke-width="0.9" />
<rect x="280.60" y="498.30" width="5.20" height="15.70" fill="#3cb950" rx="1"/>
<line x1="280.60" y1="503.00" x2="285.80" y2="503.00" stroke="#111" stroke-width="1.0" />
<line x1="278.50" y1="554.20" x2="278.50" y2="557.60" stroke="#000" stroke-width="1.0" />
<text x="278.50" y="566.80" font-size="8" text-anchor="middle" fill="#141213" stroke="#141213" stroke-width="0.16" textLength="14.20" lengthAdjust="spacingAndGlyphs" >AnV</text>
<line x1="307.10" y1="493.10" x2="307.10" y2="531.50" stroke="#222" stroke-width="0.9" />
<line x1="305.60" y1="493.10" x2="308.60" y2="493.10" stroke="#222" stroke-width="0.9" />
<line x1="305.60" y1="531.50" x2="308.60" y2="531.50" stroke="#222" stroke-width="0.9" />
<rect x="304.40" y="497.30" width="5.40" height="28.50" fill="#146b4d" rx="1"/>
<line x1="304.40" y1="501.20" x2="309.80" y2="501.20" stroke="#111" stroke-width="1.0" />
<line x1="315.80" y1="507.30" x2="315.80" y2="522.90" stroke="#222" stroke-width="0.9" />
<line x1="314.30" y1="507.30" x2="317.30" y2="507.30" stroke="#222" stroke-width="0.9" />
<line x1="314.30" y1="522.90" x2="317.30" y2="522.90" stroke="#222" stroke-width="0.9" />
<rect x="313.10" y="509.80" width="5.40" height="11.20" fill="#3cb950" rx="1"/>
<line x1="313.10" y1="516.20" x2="318.50" y2="516.20" stroke="#111" stroke-width="1.0" />
<line x1="311.00" y1="554.20" x2="311.00" y2="557.60" stroke="#000" stroke-width="1.0" />
<text x="311.00" y="566.80" font-size="8" text-anchor="middle" fill="#141213" stroke="#141213" stroke-width="0.16" textLength="25.00" lengthAdjust="spacingAndGlyphs" >CD107a</text>
<line x1="339.40" y1="495.00" x2="339.40" y2="524.40" stroke="#222" stroke-width="0.9" />
<line x1="337.90" y1="495.00" x2="340.90" y2="495.00" stroke="#222" stroke-width="0.9" />
<line x1="337.90" y1="524.40" x2="340.90" y2="524.40" stroke="#222" stroke-width="0.9" />
<rect x="336.70" y="500.80" width="5.40" height="18.80" fill="#146b4d" rx="1"/>
<line x1="336.70" y1="505.60" x2="342.10" y2="505.60" stroke="#111" stroke-width="1.0" />
<line x1="348.10" y1="505.60" x2="348.10" y2="529.60" stroke="#222" stroke-width="0.9" />
<line x1="346.60" y1="505.60" x2="349.60" y2="505.60" stroke="#222" stroke-width="0.9" />
<line x1="346.60" y1="529.60" x2="349.60" y2="529.60" stroke="#222" stroke-width="0.9" />
<rect x="345.40" y="508.10" width="5.40" height="17.70" fill="#3cb950" rx="1"/>
<line x1="345.40" y1="509.80" x2="350.80" y2="509.80" stroke="#111" stroke-width="1.0" />
<line x1="343.40" y1="554.20" x2="343.40" y2="557.60" stroke="#000" stroke-width="1.0" />
<text x="343.40" y="566.80" font-size="8" text-anchor="middle" fill="#141213" stroke="#141213" stroke-width="0.16" textLength="29.00" lengthAdjust="spacingAndGlyphs" >GPIIbIIIa</text>
<line x1="371.90" y1="493.10" x2="371.90" y2="511.30" stroke="#222" stroke-width="0.9" />
<line x1="370.40" y1="493.10" x2="373.40" y2="493.10" stroke="#222" stroke-width="0.9" />
<line x1="370.40" y1="511.30" x2="373.40" y2="511.30" stroke="#222" stroke-width="0.9" />
<rect x="369.00" y="493.10" width="5.80" height="15.40" fill="#146b4d" rx="1"/>
<line x1="369.00" y1="496.50" x2="374.80" y2="496.50" stroke="#111" stroke-width="1.0" />
<line x1="380.80" y1="499.40" x2="380.80" y2="523.50" stroke="#222" stroke-width="0.9" />
<line x1="379.30" y1="499.40" x2="382.30" y2="499.40" stroke="#222" stroke-width="0.9" />
<line x1="379.30" y1="523.50" x2="382.30" y2="523.50" stroke="#222" stroke-width="0.9" />
<rect x="378.10" y="512.70" width="5.40" height="9.20" fill="#3cb950" rx="1"/>
<line x1="378.10" y1="514.80" x2="383.50" y2="514.80" stroke="#111" stroke-width="1.0" />
<line x1="376.20" y1="554.20" x2="376.20" y2="557.60" stroke="#000" stroke-width="1.0" />
<text x="376.20" y="566.80" font-size="8" text-anchor="middle" fill="#141213" stroke="#141213" stroke-width="0.16" textLength="23.00" lengthAdjust="spacingAndGlyphs" >CD62p</text>
<circle cx="369.55" cy="484.00" r="1.1" fill="#111"/>
<line x1="369.55" y1="482.45" x2="369.55" y2="485.55" stroke="#111" stroke-width="0.5"/>
<line x1="368.21" y1="483.23" x2="370.89" y2="484.77" stroke="#111" stroke-width="0.5"/>
<line x1="370.89" y1="483.23" x2="368.21" y2="484.77" stroke="#111" stroke-width="0.5"/>
<circle cx="373.25" cy="484.00" r="1.1" fill="#111"/>
<line x1="373.25" y1="482.45" x2="373.25" y2="485.55" stroke="#111" stroke-width="0.5"/>
<line x1="371.91" y1="483.23" x2="374.59" y2="484.77" stroke="#111" stroke-width="0.5"/>
<line x1="374.59" y1="483.23" x2="371.91" y2="484.77" stroke="#111" stroke-width="0.5"/>
<line x1="404.80" y1="493.10" x2="404.80" y2="510.00" stroke="#222" stroke-width="0.9" />
<line x1="403.30" y1="493.10" x2="406.30" y2="493.10" stroke="#222" stroke-width="0.9" />
<line x1="403.30" y1="510.00" x2="406.30" y2="510.00" stroke="#222" stroke-width="0.9" />
<rect x="402.10" y="493.10" width="5.40" height="15.40" fill="#146b4d" rx="1"/>
<line x1="402.10" y1="503.00" x2="407.50" y2="503.00" stroke="#111" stroke-width="1.0" />
<line x1="413.20" y1="509.40" x2="413.20" y2="530.00" stroke="#222" stroke-width="0.9" />
<line x1="411.70" y1="509.40" x2="414.70" y2="509.40" stroke="#222" stroke-width="0.9" />
<line x1="411.70" y1="530.00" x2="414.70" y2="530.00" stroke="#222" stroke-width="0.9" />
<rect x="410.40" y="514.20" width="5.60" height="11.20" fill="#3cb950" rx="1"/>
<line x1="410.40" y1="519.60" x2="416.00" y2="519.60" stroke="#111" stroke-width="1.0" />
<line x1="408.50" y1="554.20" x2="408.50" y2="557.60" stroke="#000" stroke-width="1.0" />
<text x="408.50" y="566.80" font-size="8" text-anchor="middle" fill="#141213" stroke="#141213" stroke-width="0.16" textLength="15.50" lengthAdjust="spacingAndGlyphs" >CD9</text>
<circle cx="402.45" cy="484.00" r="1.1" fill="#111"/>
<line x1="402.45" y1="482.45" x2="402.45" y2="485.55" stroke="#111" stroke-width="0.5"/>
<line x1="401.11" y1="483.23" x2="403.79" y2="484.77" stroke="#111" stroke-width="0.5"/>
<line x1="403.79" y1="483.23" x2="401.11" y2="484.77" stroke="#111" stroke-width="0.5"/>
<circle cx="406.15" cy="484.00" r="1.1" fill="#111"/>
<line x1="406.15" y1="482.45" x2="406.15" y2="485.55" stroke="#111" stroke-width="0.5"/>
<line x1="404.81" y1="483.23" x2="407.49" y2="484.77" stroke="#111" stroke-width="0.5"/>
<line x1="407.49" y1="483.23" x2="404.81" y2="484.77" stroke="#111" stroke-width="0.5"/>
</svg>
<div class="frame"></div>
</body></html>
